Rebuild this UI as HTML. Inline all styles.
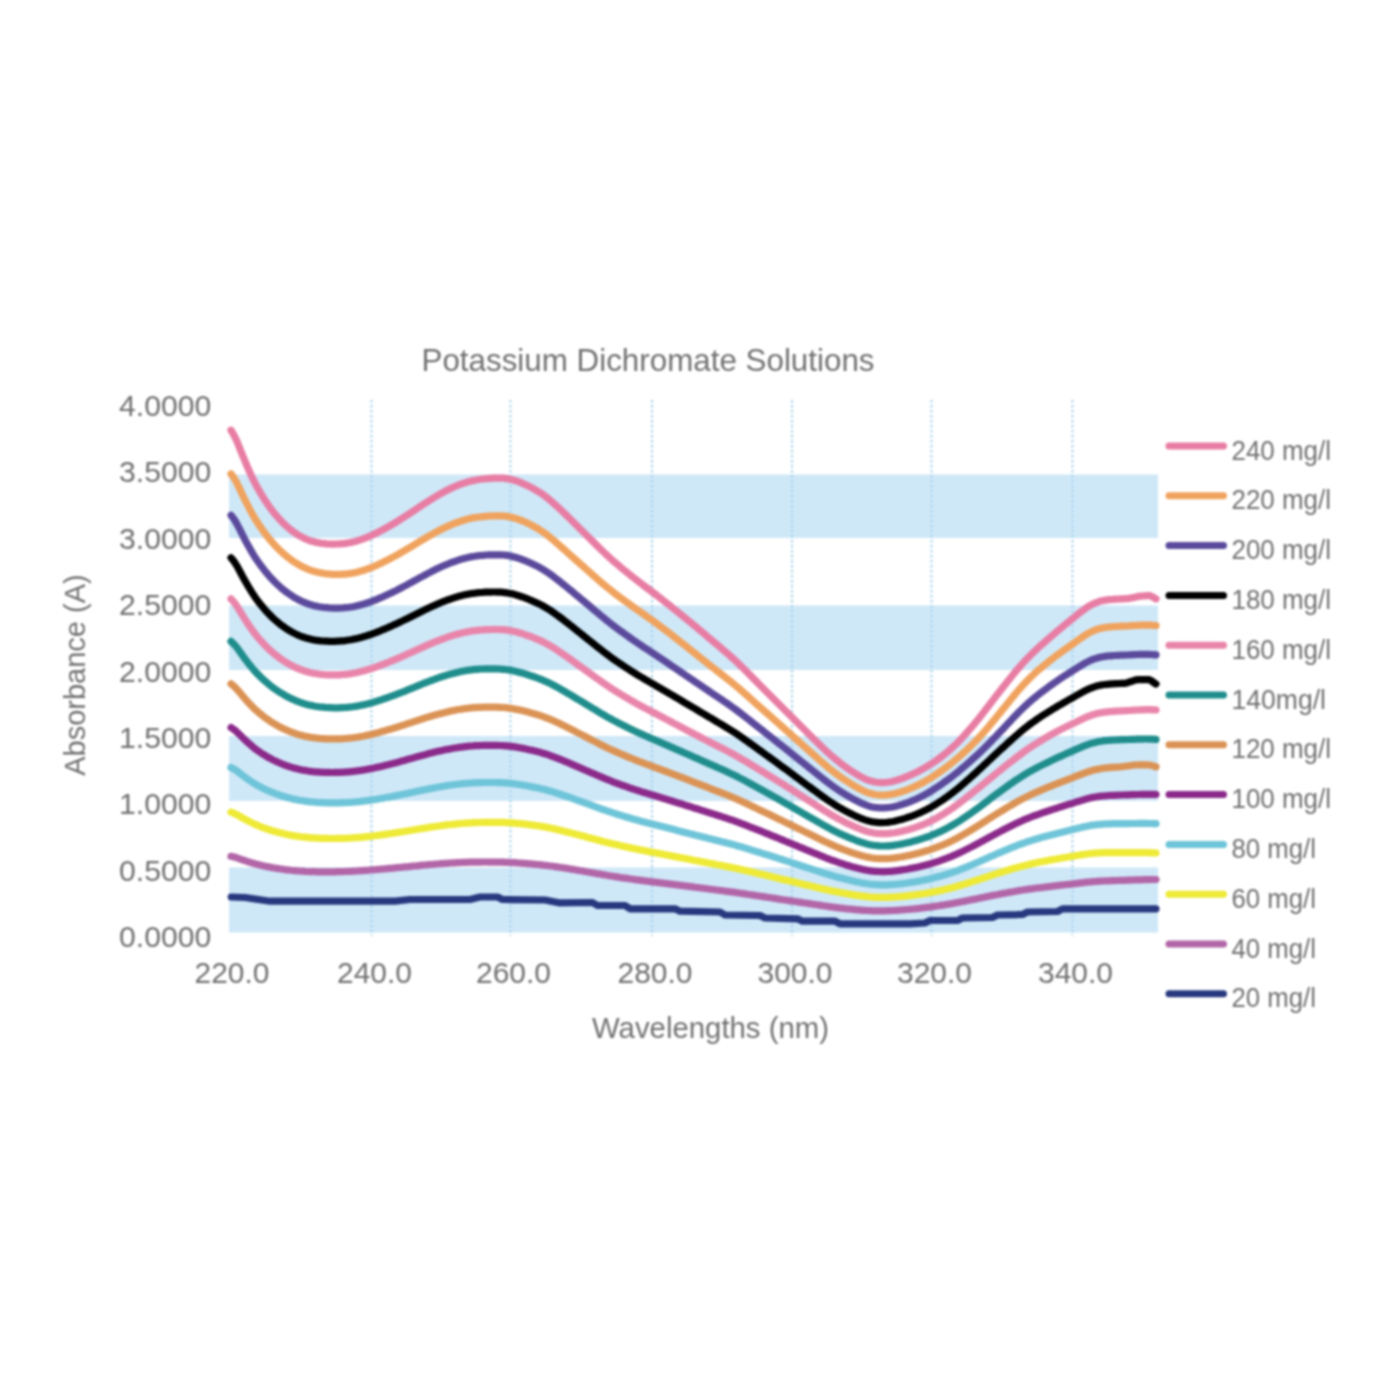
<!DOCTYPE html>
<html lang="en"><head><meta charset="utf-8"><title>Potassium Dichromate Solutions</title>
<style>html,body{margin:0;padding:0;background:#fff}body{width:1400px;height:1400px;overflow:hidden}svg{display:block}#chart{filter:blur(1px)}</style>
</head><body>
<div id="chart">
<svg width="1400" height="1400" viewBox="0 0 1400 1400">
<rect width="1400" height="1400" fill="#fff"/>
<rect x="229" y="474.5" width="929" height="63.5" fill="#CFE8F8"/>
<rect x="229" y="605.5" width="929" height="64.5" fill="#CFE8F8"/>
<rect x="229" y="736" width="929" height="65" fill="#CFE8F8"/>
<rect x="229" y="867.5" width="929" height="65" fill="#CFE8F8"/>
<line x1="371.5" y1="400" x2="371.5" y2="936" stroke="#A6D1EB" stroke-width="2" stroke-dasharray="2.5 2.5"/>
<line x1="510.5" y1="400" x2="510.5" y2="936" stroke="#A6D1EB" stroke-width="2" stroke-dasharray="2.5 2.5"/>
<line x1="652" y1="400" x2="652" y2="936" stroke="#A6D1EB" stroke-width="2" stroke-dasharray="2.5 2.5"/>
<line x1="792" y1="400" x2="792" y2="936" stroke="#A6D1EB" stroke-width="2" stroke-dasharray="2.5 2.5"/>
<line x1="931.5" y1="400" x2="931.5" y2="936" stroke="#A6D1EB" stroke-width="2" stroke-dasharray="2.5 2.5"/>
<line x1="1072.5" y1="400" x2="1072.5" y2="936" stroke="#A6D1EB" stroke-width="2" stroke-dasharray="2.5 2.5"/>
<g fill="none" stroke-width="7.2" stroke-linecap="round" stroke-linejoin="round">
<path d="M231.2 897.0 L245.0 897.5 L270.0 901.2 L395.0 901.2 L410.0 899.5 L470.0 899.5 L480.0 897.0 L497.5 897.0 L502.5 899.5 L545.0 900.0 L558.8 902.8 L592.5 902.5 L597.5 905.5 L625.0 905.5 L630.0 908.8 L675.0 908.8 L680.0 911.2 L720.0 912.0 L725.0 915.0 L760.0 915.5 L765.0 918.0 L797.5 918.8 L802.5 921.2 L835.0 921.2 L840.0 923.8 L910.0 923.8 L925.0 923.0 L930.0 920.5 L957.5 920.5 L962.5 918.0 L992.5 917.5 L997.5 915.0 L1022.5 914.5 L1027.5 912.0 L1057.5 911.5 L1062.5 908.8 L1156.0 908.8" stroke="#28387F"/>
<path d="M231 856.3 L233 856.7 L235 857.2 L237 857.9 L239 858.6 L241 859.3 L243 860.0 L245 860.7 L247 861.4 L249 862.0 L251 862.6 L253 863.2 L255 863.8 L257 864.3 L259 864.8 L261 865.3 L263 865.8 L265 866.2 L267 866.6 L269 867.0 L271 867.4 L273 867.8 L275 868.1 L277 868.4 L279 868.7 L281 869.0 L283 869.3 L285 869.6 L287 869.8 L289 870.0 L291 870.3 L293 870.5 L295 870.6 L297 870.8 L299 871.0 L301 871.1 L303 871.2 L305 871.4 L307 871.5 L309 871.6 L311 871.6 L313 871.7 L315 871.7 L317 871.8 L319 871.8 L321 871.8 L323 871.8 L325 871.9 L327 871.8 L329 871.8 L331 871.8 L333 871.8 L335 871.8 L337 871.7 L339 871.7 L341 871.6 L343 871.6 L345 871.5 L347 871.4 L349 871.4 L351 871.3 L353 871.2 L355 871.1 L357 871.0 L359 870.8 L361 870.7 L363 870.6 L365 870.4 L367 870.3 L369 870.2 L371 870.0 L373 869.8 L375 869.7 L377 869.5 L379 869.3 L381 869.2 L383 869.0 L385 868.8 L387 868.6 L389 868.4 L391 868.3 L393 868.1 L395 867.9 L397 867.7 L399 867.5 L401 867.3 L403 867.1 L405 866.9 L407 866.8 L409 866.6 L411 866.4 L413 866.2 L415 866.0 L417 865.8 L419 865.6 L421 865.4 L423 865.2 L425 865.0 L427 864.9 L429 864.7 L431 864.5 L433 864.3 L435 864.2 L437 864.0 L439 863.9 L441 863.7 L443 863.6 L445 863.4 L447 863.3 L449 863.1 L451 863.0 L453 862.9 L455 862.8 L457 862.7 L459 862.6 L461 862.5 L463 862.4 L465 862.4 L467 862.3 L469 862.2 L471 862.2 L473 862.1 L475 862.1 L477 862.1 L479 862.1 L481 862.1 L483 862.0 L485 862.0 L487 862.0 L489 862.1 L491 862.1 L493 862.1 L495 862.1 L497 862.1 L499 862.1 L501 862.2 L503 862.2 L505 862.3 L507 862.3 L509 862.4 L511 862.5 L513 862.6 L515 862.7 L517 862.9 L519 863.0 L521 863.1 L523 863.3 L525 863.4 L527 863.6 L529 863.8 L531 863.9 L533 864.1 L535 864.3 L537 864.5 L539 864.6 L541 864.8 L543 865.1 L545 865.3 L547 865.5 L549 865.8 L551 866.0 L553 866.3 L555 866.6 L557 866.9 L559 867.2 L561 867.5 L563 867.8 L565 868.1 L567 868.4 L569 868.8 L571 869.1 L573 869.4 L575 869.8 L577 870.1 L579 870.5 L581 870.8 L583 871.1 L585 871.5 L587 871.8 L589 872.2 L591 872.5 L593 872.9 L595 873.2 L597 873.6 L599 873.9 L601 874.3 L603 874.6 L605 875.0 L607 875.3 L609 875.7 L611 876.0 L613 876.3 L615 876.6 L617 876.9 L619 877.2 L621 877.6 L623 877.9 L625 878.1 L627 878.4 L629 878.7 L631 879.0 L633 879.3 L635 879.6 L637 879.8 L639 880.1 L641 880.4 L643 880.6 L645 880.9 L647 881.1 L649 881.4 L651 881.6 L653 881.9 L655 882.1 L657 882.4 L659 882.6 L661 882.9 L663 883.1 L665 883.4 L667 883.6 L669 883.9 L671 884.2 L673 884.4 L675 884.7 L677 884.9 L679 885.2 L681 885.4 L683 885.7 L685 885.9 L687 886.2 L689 886.4 L691 886.7 L693 886.9 L695 887.2 L697 887.5 L699 887.7 L701 888.0 L703 888.2 L705 888.5 L707 888.7 L709 889.0 L711 889.3 L713 889.5 L715 889.8 L717 890.0 L719 890.3 L721 890.5 L723 890.8 L725 891.1 L727 891.3 L729 891.6 L731 891.8 L733 892.1 L735 892.4 L737 892.7 L739 893.0 L741 893.3 L743 893.6 L745 893.9 L747 894.2 L749 894.5 L751 894.8 L753 895.1 L755 895.4 L757 895.7 L759 896.0 L761 896.3 L763 896.6 L765 896.9 L767 897.2 L769 897.5 L771 897.8 L773 898.1 L775 898.4 L777 898.7 L779 899.1 L781 899.4 L783 899.7 L785 900.0 L787 900.3 L789 900.6 L791 900.9 L793 901.2 L795 901.5 L797 901.8 L799 902.1 L801 902.4 L803 902.7 L805 903.0 L807 903.3 L809 903.6 L811 903.9 L813 904.2 L815 904.5 L817 904.8 L819 905.1 L821 905.4 L823 905.7 L825 906.0 L827 906.3 L829 906.6 L831 906.9 L833 907.1 L835 907.4 L837 907.6 L839 907.9 L841 908.1 L843 908.3 L845 908.6 L847 908.8 L849 909.0 L851 909.2 L853 909.4 L855 909.6 L857 909.8 L859 909.9 L861 910.1 L863 910.3 L865 910.4 L867 910.5 L869 910.6 L871 910.7 L873 910.8 L875 910.8 L877 910.8 L879 910.9 L881 910.8 L883 910.8 L885 910.8 L887 910.7 L889 910.7 L891 910.6 L893 910.5 L895 910.4 L897 910.3 L899 910.1 L901 910.0 L903 909.8 L905 909.7 L907 909.5 L909 909.3 L911 909.2 L913 909.0 L915 908.8 L917 908.6 L919 908.4 L921 908.1 L923 907.9 L925 907.7 L927 907.4 L929 907.2 L931 906.9 L933 906.6 L935 906.3 L937 906.0 L939 905.7 L941 905.4 L943 905.1 L945 904.8 L947 904.4 L949 904.1 L951 903.7 L953 903.4 L955 903.0 L957 902.6 L959 902.2 L961 901.9 L963 901.5 L965 901.1 L967 900.7 L969 900.3 L971 899.9 L973 899.5 L975 899.1 L977 898.7 L979 898.3 L981 897.9 L983 897.5 L985 897.1 L987 896.6 L989 896.2 L991 895.8 L993 895.4 L995 895.0 L997 894.7 L999 894.3 L1001 893.9 L1003 893.5 L1005 893.1 L1007 892.8 L1009 892.4 L1011 892.0 L1013 891.7 L1015 891.3 L1017 891.0 L1019 890.6 L1021 890.3 L1023 890.0 L1025 889.7 L1027 889.4 L1029 889.1 L1031 888.8 L1033 888.6 L1035 888.3 L1037 888.0 L1039 887.8 L1041 887.6 L1043 887.3 L1045 887.1 L1047 886.8 L1049 886.6 L1051 886.4 L1053 886.1 L1055 885.9 L1057 885.7 L1059 885.4 L1061 885.2 L1063 885.0 L1065 884.7 L1067 884.5 L1069 884.3 L1071 884.1 L1073 883.8 L1075 883.6 L1077 883.4 L1079 883.1 L1081 882.9 L1083 882.7 L1085 882.4 L1087 882.2 L1089 882.0 L1091 881.8 L1093 881.6 L1095 881.5 L1097 881.3 L1099 881.2 L1101 881.1 L1103 881.0 L1105 880.9 L1107 880.8 L1109 880.8 L1111 880.7 L1113 880.6 L1115 880.6 L1117 880.5 L1119 880.4 L1121 880.4 L1123 880.3 L1125 880.3 L1127 880.2 L1129 880.1 L1131 880.1 L1133 880.0 L1135 879.9 L1137 879.9 L1139 879.8 L1141 879.8 L1143 879.7 L1145 879.7 L1147 879.6 L1149 879.6 L1151 879.5 L1153 879.5 L1155 879.5 L1156 879.5" stroke="#B266A8"/>
<path d="M231 812.1 L233 812.8 L235 813.7 L237 814.7 L239 815.8 L241 817.0 L243 818.1 L245 819.3 L247 820.3 L249 821.4 L251 822.4 L253 823.4 L255 824.4 L257 825.2 L259 826.0 L261 826.8 L263 827.6 L265 828.3 L267 829.0 L269 829.7 L271 830.3 L273 831.0 L275 831.5 L277 832.1 L279 832.6 L281 833.1 L283 833.6 L285 834.0 L287 834.5 L289 834.9 L291 835.2 L293 835.6 L295 835.9 L297 836.2 L299 836.5 L301 836.8 L303 837.0 L305 837.2 L307 837.4 L309 837.6 L311 837.8 L313 837.9 L315 838.0 L317 838.1 L319 838.2 L321 838.3 L323 838.4 L325 838.4 L327 838.4 L329 838.5 L331 838.5 L333 838.5 L335 838.5 L337 838.4 L339 838.4 L341 838.4 L343 838.3 L345 838.3 L347 838.2 L349 838.1 L351 838.0 L353 837.9 L355 837.7 L357 837.6 L359 837.4 L361 837.3 L363 837.1 L365 836.9 L367 836.7 L369 836.5 L371 836.2 L373 836.0 L375 835.7 L377 835.5 L379 835.2 L381 834.9 L383 834.7 L385 834.4 L387 834.1 L389 833.8 L391 833.5 L393 833.2 L395 832.9 L397 832.6 L399 832.3 L401 832.0 L403 831.7 L405 831.3 L407 831.0 L409 830.7 L411 830.3 L413 830.0 L415 829.7 L417 829.3 L419 829.0 L421 828.7 L423 828.4 L425 828.1 L427 827.7 L429 827.4 L431 827.1 L433 826.8 L435 826.5 L437 826.2 L439 826.0 L441 825.7 L443 825.4 L445 825.2 L447 824.9 L449 824.7 L451 824.5 L453 824.3 L455 824.1 L457 823.9 L459 823.7 L461 823.5 L463 823.4 L465 823.2 L467 823.1 L469 823.0 L471 822.8 L473 822.7 L475 822.7 L477 822.6 L479 822.5 L481 822.5 L483 822.4 L485 822.4 L487 822.4 L489 822.3 L491 822.3 L493 822.3 L495 822.3 L497 822.3 L499 822.3 L501 822.4 L503 822.4 L505 822.5 L507 822.6 L509 822.7 L511 822.8 L513 822.9 L515 823.1 L517 823.3 L519 823.5 L521 823.7 L523 823.9 L525 824.1 L527 824.4 L529 824.6 L531 824.9 L533 825.1 L535 825.4 L537 825.7 L539 826.0 L541 826.3 L543 826.6 L545 827.0 L547 827.4 L549 827.8 L551 828.2 L553 828.6 L555 829.1 L557 829.5 L559 830.0 L561 830.5 L563 831.0 L565 831.5 L567 832.0 L569 832.5 L571 833.0 L573 833.5 L575 834.0 L577 834.5 L579 835.1 L581 835.6 L583 836.1 L585 836.6 L587 837.2 L589 837.7 L591 838.2 L593 838.7 L595 839.3 L597 839.8 L599 840.3 L601 840.9 L603 841.4 L605 841.9 L607 842.4 L609 842.9 L611 843.4 L613 843.9 L615 844.3 L617 844.8 L619 845.3 L621 845.7 L623 846.2 L625 846.6 L627 847.1 L629 847.5 L631 847.9 L633 848.4 L635 848.8 L637 849.2 L639 849.6 L641 850.0 L643 850.4 L645 850.8 L647 851.2 L649 851.6 L651 852.0 L653 852.3 L655 852.7 L657 853.1 L659 853.5 L661 853.9 L663 854.3 L665 854.7 L667 855.0 L669 855.4 L671 855.8 L673 856.2 L675 856.6 L677 857.0 L679 857.4 L681 857.8 L683 858.1 L685 858.5 L687 858.9 L689 859.3 L691 859.7 L693 860.1 L695 860.5 L697 860.8 L699 861.2 L701 861.6 L703 862.0 L705 862.4 L707 862.8 L709 863.1 L711 863.5 L713 863.9 L715 864.3 L717 864.7 L719 865.0 L721 865.4 L723 865.8 L725 866.2 L727 866.6 L729 867.0 L731 867.4 L733 867.8 L735 868.2 L737 868.6 L739 869.1 L741 869.5 L743 869.9 L745 870.4 L747 870.9 L749 871.3 L751 871.8 L753 872.3 L755 872.7 L757 873.2 L759 873.7 L761 874.1 L763 874.6 L765 875.1 L767 875.6 L769 876.0 L771 876.5 L773 877.0 L775 877.5 L777 877.9 L779 878.4 L781 878.9 L783 879.4 L785 879.9 L787 880.3 L789 880.8 L791 881.3 L793 881.8 L795 882.3 L797 882.7 L799 883.2 L801 883.7 L803 884.2 L805 884.7 L807 885.1 L809 885.6 L811 886.1 L813 886.6 L815 887.0 L817 887.5 L819 888.0 L821 888.4 L823 888.9 L825 889.4 L827 889.8 L829 890.2 L831 890.7 L833 891.1 L835 891.5 L837 891.9 L839 892.3 L841 892.7 L843 893.0 L845 893.4 L847 893.7 L849 894.1 L851 894.4 L853 894.7 L855 895.1 L857 895.4 L859 895.7 L861 895.9 L863 896.2 L865 896.4 L867 896.7 L869 896.9 L871 897.0 L873 897.2 L875 897.3 L877 897.3 L879 897.4 L881 897.4 L883 897.4 L885 897.4 L887 897.4 L889 897.3 L891 897.2 L893 897.1 L895 897.0 L897 896.8 L899 896.7 L901 896.5 L903 896.3 L905 896.1 L907 895.9 L909 895.7 L911 895.4 L913 895.2 L915 894.9 L917 894.7 L919 894.4 L921 894.1 L923 893.8 L925 893.5 L927 893.1 L929 892.8 L931 892.4 L933 892.0 L935 891.6 L937 891.2 L939 890.8 L941 890.4 L943 889.9 L945 889.4 L947 889.0 L949 888.5 L951 888.0 L953 887.4 L955 886.9 L957 886.3 L959 885.8 L961 885.2 L963 884.6 L965 884.0 L967 883.3 L969 882.7 L971 882.1 L973 881.4 L975 880.8 L977 880.2 L979 879.5 L981 878.9 L983 878.2 L985 877.5 L987 876.9 L989 876.2 L991 875.5 L993 874.9 L995 874.2 L997 873.6 L999 872.9 L1001 872.3 L1003 871.7 L1005 871.1 L1007 870.5 L1009 869.8 L1011 869.2 L1013 868.6 L1015 868.1 L1017 867.5 L1019 866.9 L1021 866.4 L1023 865.9 L1025 865.4 L1027 864.9 L1029 864.4 L1031 863.9 L1033 863.5 L1035 863.1 L1037 862.6 L1039 862.2 L1041 861.8 L1043 861.5 L1045 861.1 L1047 860.7 L1049 860.3 L1051 859.9 L1053 859.6 L1055 859.2 L1057 858.9 L1059 858.5 L1061 858.2 L1063 857.8 L1065 857.5 L1067 857.2 L1069 856.8 L1071 856.5 L1073 856.2 L1075 855.8 L1077 855.5 L1079 855.2 L1081 854.9 L1083 854.6 L1085 854.3 L1087 854.0 L1089 853.7 L1091 853.5 L1093 853.3 L1095 853.1 L1097 853.0 L1099 852.9 L1101 852.8 L1103 852.7 L1105 852.6 L1107 852.6 L1109 852.6 L1111 852.6 L1113 852.6 L1115 852.6 L1117 852.6 L1119 852.6 L1121 852.6 L1123 852.6 L1125 852.6 L1127 852.6 L1129 852.6 L1131 852.6 L1133 852.6 L1135 852.6 L1137 852.6 L1139 852.6 L1141 852.6 L1143 852.6 L1145 852.7 L1147 852.7 L1149 852.7 L1151 852.8 L1153 852.8 L1155 852.9 L1156 853.0" stroke="#EEEA35"/>
<path d="M231 767.6 L233 768.5 L235 769.7 L237 771.0 L239 772.5 L241 774.1 L243 775.6 L245 777.1 L247 778.6 L249 780.0 L251 781.4 L253 782.7 L255 783.9 L257 785.1 L259 786.2 L261 787.2 L263 788.3 L265 789.2 L267 790.2 L269 791.1 L271 791.9 L273 792.7 L275 793.5 L277 794.3 L279 794.9 L281 795.6 L283 796.2 L285 796.8 L287 797.4 L289 797.9 L291 798.5 L293 798.9 L295 799.4 L297 799.8 L299 800.2 L301 800.5 L303 800.8 L305 801.1 L307 801.4 L309 801.7 L311 801.9 L313 802.0 L315 802.2 L317 802.4 L319 802.5 L321 802.6 L323 802.6 L325 802.7 L327 802.8 L329 802.8 L331 802.8 L333 802.8 L335 802.8 L337 802.8 L339 802.8 L341 802.7 L343 802.7 L345 802.6 L347 802.5 L349 802.4 L351 802.3 L353 802.1 L355 802.0 L357 801.8 L359 801.6 L361 801.4 L363 801.1 L365 800.9 L367 800.6 L369 800.4 L371 800.1 L373 799.8 L375 799.5 L377 799.2 L379 798.8 L381 798.5 L383 798.1 L385 797.8 L387 797.4 L389 797.1 L391 796.7 L393 796.3 L395 795.9 L397 795.5 L399 795.1 L401 794.7 L403 794.3 L405 793.9 L407 793.5 L409 793.0 L411 792.6 L413 792.2 L415 791.8 L417 791.3 L419 790.9 L421 790.5 L423 790.1 L425 789.7 L427 789.3 L429 788.9 L431 788.5 L433 788.1 L435 787.7 L437 787.3 L439 787.0 L441 786.6 L443 786.3 L445 785.9 L447 785.6 L449 785.3 L451 785.0 L453 784.8 L455 784.5 L457 784.3 L459 784.0 L461 783.8 L463 783.6 L465 783.4 L467 783.3 L469 783.1 L471 783.0 L473 782.9 L475 782.8 L477 782.7 L479 782.6 L481 782.6 L483 782.5 L485 782.5 L487 782.5 L489 782.5 L491 782.5 L493 782.5 L495 782.5 L497 782.6 L499 782.6 L501 782.7 L503 782.8 L505 782.9 L507 783.1 L509 783.2 L511 783.4 L513 783.7 L515 783.9 L517 784.2 L519 784.5 L521 784.8 L523 785.1 L525 785.5 L527 785.8 L529 786.2 L531 786.6 L533 787.0 L535 787.4 L537 787.8 L539 788.2 L541 788.7 L543 789.1 L545 789.6 L547 790.2 L549 790.7 L551 791.3 L553 791.9 L555 792.5 L557 793.2 L559 793.8 L561 794.5 L563 795.2 L565 795.8 L567 796.5 L569 797.2 L571 797.9 L573 798.7 L575 799.4 L577 800.1 L579 800.8 L581 801.5 L583 802.2 L585 803.0 L587 803.7 L589 804.4 L591 805.1 L593 805.9 L595 806.6 L597 807.3 L599 808.0 L601 808.8 L603 809.5 L605 810.2 L607 810.9 L609 811.5 L611 812.2 L613 812.9 L615 813.5 L617 814.2 L619 814.8 L621 815.4 L623 816.0 L625 816.6 L627 817.2 L629 817.8 L631 818.4 L633 819.0 L635 819.5 L637 820.1 L639 820.6 L641 821.2 L643 821.7 L645 822.2 L647 822.7 L649 823.2 L651 823.7 L653 824.2 L655 824.8 L657 825.3 L659 825.8 L661 826.3 L663 826.8 L665 827.3 L667 827.8 L669 828.3 L671 828.8 L673 829.3 L675 829.8 L677 830.4 L679 830.9 L681 831.4 L683 831.9 L685 832.4 L687 832.9 L689 833.4 L691 833.9 L693 834.4 L695 834.9 L697 835.4 L699 835.9 L701 836.4 L703 836.9 L705 837.4 L707 838.0 L709 838.5 L711 839.0 L713 839.5 L715 840.0 L717 840.5 L719 841.0 L721 841.5 L723 842.0 L725 842.5 L727 843.0 L729 843.5 L731 844.0 L733 844.6 L735 845.1 L737 845.7 L739 846.3 L741 846.8 L743 847.4 L745 848.0 L747 848.6 L749 849.2 L751 849.9 L753 850.5 L755 851.1 L757 851.7 L759 852.3 L761 852.9 L763 853.6 L765 854.2 L767 854.8 L769 855.4 L771 856.0 L773 856.7 L775 857.3 L777 857.9 L779 858.6 L781 859.2 L783 859.8 L785 860.5 L787 861.1 L789 861.8 L791 862.4 L793 863.1 L795 863.7 L797 864.4 L799 865.0 L801 865.7 L803 866.3 L805 867.0 L807 867.6 L809 868.3 L811 868.9 L813 869.6 L815 870.2 L817 870.9 L819 871.5 L821 872.2 L823 872.8 L825 873.5 L827 874.1 L829 874.7 L831 875.3 L833 875.9 L835 876.5 L837 877.0 L839 877.6 L841 878.1 L843 878.6 L845 879.1 L847 879.6 L849 880.1 L851 880.6 L853 881.0 L855 881.5 L857 881.9 L859 882.3 L861 882.7 L863 883.1 L865 883.4 L867 883.8 L869 884.0 L871 884.3 L873 884.5 L875 884.6 L877 884.7 L879 884.8 L881 884.9 L883 884.9 L885 884.9 L887 884.8 L889 884.7 L891 884.6 L893 884.5 L895 884.4 L897 884.2 L899 884.0 L901 883.8 L903 883.5 L905 883.3 L907 883.0 L909 882.7 L911 882.4 L913 882.1 L915 881.8 L917 881.4 L919 881.1 L921 880.7 L923 880.3 L925 879.9 L927 879.5 L929 879.1 L931 878.6 L933 878.1 L935 877.6 L937 877.1 L939 876.5 L941 876.0 L943 875.4 L945 874.8 L947 874.2 L949 873.5 L951 872.9 L953 872.2 L955 871.5 L957 870.8 L959 870.0 L961 869.2 L963 868.5 L965 867.6 L967 866.8 L969 866.0 L971 865.2 L973 864.3 L975 863.5 L977 862.6 L979 861.8 L981 860.9 L983 860.0 L985 859.1 L987 858.2 L989 857.3 L991 856.4 L993 855.6 L995 854.7 L997 853.8 L999 852.9 L1001 852.1 L1003 851.2 L1005 850.4 L1007 849.6 L1009 848.7 L1011 847.9 L1013 847.1 L1015 846.3 L1017 845.5 L1019 844.7 L1021 844.0 L1023 843.3 L1025 842.6 L1027 841.9 L1029 841.2 L1031 840.6 L1033 840.0 L1035 839.4 L1037 838.8 L1039 838.2 L1041 837.6 L1043 837.1 L1045 836.6 L1047 836.0 L1049 835.5 L1051 834.9 L1053 834.4 L1055 833.9 L1057 833.4 L1059 832.9 L1061 832.4 L1063 831.9 L1065 831.4 L1067 830.9 L1069 830.4 L1071 829.9 L1073 829.4 L1075 829.0 L1077 828.5 L1079 828.0 L1081 827.5 L1083 827.0 L1085 826.6 L1087 826.2 L1089 825.8 L1091 825.4 L1093 825.1 L1095 824.9 L1097 824.6 L1099 824.4 L1101 824.3 L1103 824.1 L1105 824.0 L1107 823.9 L1109 823.8 L1111 823.8 L1113 823.7 L1115 823.7 L1117 823.7 L1119 823.7 L1121 823.6 L1123 823.6 L1125 823.6 L1127 823.6 L1129 823.6 L1131 823.5 L1133 823.5 L1135 823.5 L1137 823.5 L1139 823.4 L1141 823.4 L1143 823.4 L1145 823.4 L1147 823.4 L1149 823.5 L1151 823.5 L1153 823.6 L1155 823.7 L1156 823.7" stroke="#6EC4D8"/>
<path d="M231 727.6 L233 728.9 L235 730.3 L237 732.1 L239 734.0 L241 736.0 L243 738.0 L245 739.9 L247 741.8 L249 743.6 L251 745.3 L253 747.0 L255 748.7 L257 750.1 L259 751.5 L261 752.9 L263 754.2 L265 755.4 L267 756.6 L269 757.8 L271 758.8 L273 759.9 L275 760.9 L277 761.8 L279 762.7 L281 763.5 L283 764.3 L285 765.1 L287 765.8 L289 766.5 L291 767.1 L293 767.7 L295 768.2 L297 768.8 L299 769.2 L301 769.7 L303 770.1 L305 770.4 L307 770.8 L309 771.1 L311 771.3 L313 771.6 L315 771.8 L317 771.9 L319 772.1 L321 772.2 L323 772.3 L325 772.4 L327 772.4 L329 772.4 L331 772.5 L333 772.5 L335 772.4 L337 772.4 L339 772.3 L341 772.3 L343 772.2 L345 772.1 L347 771.9 L349 771.8 L351 771.6 L353 771.4 L355 771.2 L357 770.9 L359 770.7 L361 770.4 L363 770.1 L365 769.7 L367 769.4 L369 769.0 L371 768.6 L373 768.2 L375 767.8 L377 767.3 L379 766.9 L381 766.4 L383 765.9 L385 765.4 L387 765.0 L389 764.5 L391 764.0 L393 763.4 L395 762.9 L397 762.4 L399 761.9 L401 761.3 L403 760.8 L405 760.2 L407 759.6 L409 759.1 L411 758.5 L413 758.0 L415 757.4 L417 756.8 L419 756.3 L421 755.7 L423 755.2 L425 754.7 L427 754.1 L429 753.6 L431 753.1 L433 752.6 L435 752.1 L437 751.6 L439 751.1 L441 750.7 L443 750.3 L445 749.8 L447 749.4 L449 749.1 L451 748.7 L453 748.3 L455 748.0 L457 747.7 L459 747.4 L461 747.1 L463 746.9 L465 746.6 L467 746.4 L469 746.2 L471 746.0 L473 745.9 L475 745.7 L477 745.6 L479 745.6 L481 745.5 L483 745.4 L485 745.4 L487 745.4 L489 745.4 L491 745.4 L493 745.4 L495 745.4 L497 745.4 L499 745.5 L501 745.5 L503 745.6 L505 745.8 L507 745.9 L509 746.1 L511 746.4 L513 746.6 L515 746.9 L517 747.3 L519 747.6 L521 748.0 L523 748.4 L525 748.8 L527 749.2 L529 749.7 L531 750.1 L533 750.6 L535 751.1 L537 751.6 L539 752.1 L541 752.6 L543 753.2 L545 753.8 L547 754.4 L549 755.1 L551 755.8 L553 756.6 L555 757.3 L557 758.1 L559 758.9 L561 759.7 L563 760.5 L565 761.4 L567 762.2 L569 763.0 L571 763.9 L573 764.8 L575 765.6 L577 766.5 L579 767.4 L581 768.2 L583 769.1 L585 770.0 L587 770.8 L589 771.7 L591 772.6 L593 773.4 L595 774.3 L597 775.2 L599 776.0 L601 776.9 L603 777.7 L605 778.6 L607 779.4 L609 780.2 L611 781.0 L613 781.8 L615 782.6 L617 783.3 L619 784.0 L621 784.8 L623 785.5 L625 786.2 L627 786.9 L629 787.6 L631 788.3 L633 789.0 L635 789.6 L637 790.3 L639 790.9 L641 791.6 L643 792.2 L645 792.8 L647 793.4 L649 794.0 L651 794.6 L653 795.2 L655 795.8 L657 796.4 L659 797.0 L661 797.6 L663 798.3 L665 798.9 L667 799.5 L669 800.1 L671 800.7 L673 801.3 L675 802.0 L677 802.6 L679 803.2 L681 803.8 L683 804.4 L685 805.1 L687 805.7 L689 806.3 L691 806.9 L693 807.6 L695 808.2 L697 808.8 L699 809.4 L701 810.1 L703 810.7 L705 811.4 L707 812.0 L709 812.6 L711 813.3 L713 813.9 L715 814.5 L717 815.2 L719 815.8 L721 816.4 L723 817.1 L725 817.7 L727 818.4 L729 819.1 L731 819.7 L733 820.4 L735 821.1 L737 821.9 L739 822.6 L741 823.4 L743 824.1 L745 824.9 L747 825.7 L749 826.5 L751 827.3 L753 828.0 L755 828.8 L757 829.6 L759 830.4 L761 831.2 L763 832.0 L765 832.8 L767 833.6 L769 834.4 L771 835.3 L773 836.1 L775 836.9 L777 837.7 L779 838.5 L781 839.3 L783 840.1 L785 841.0 L787 841.8 L789 842.6 L791 843.4 L793 844.3 L795 845.1 L797 845.9 L799 846.8 L801 847.6 L803 848.4 L805 849.3 L807 850.1 L809 850.9 L811 851.7 L813 852.6 L815 853.4 L817 854.2 L819 855.0 L821 855.9 L823 856.7 L825 857.5 L827 858.3 L829 859.0 L831 859.8 L833 860.5 L835 861.2 L837 861.9 L839 862.6 L841 863.3 L843 863.9 L845 864.6 L847 865.2 L849 865.8 L851 866.4 L853 866.9 L855 867.5 L857 868.0 L859 868.5 L861 869.0 L863 869.5 L865 869.9 L867 870.3 L869 870.6 L871 870.9 L873 871.1 L875 871.3 L877 871.4 L879 871.5 L881 871.6 L883 871.6 L885 871.6 L887 871.5 L889 871.4 L891 871.3 L893 871.1 L895 870.9 L897 870.7 L899 870.4 L901 870.1 L903 869.8 L905 869.5 L907 869.2 L909 868.8 L911 868.4 L913 868.0 L915 867.6 L917 867.2 L919 866.7 L921 866.3 L923 865.8 L925 865.3 L927 864.8 L929 864.2 L931 863.6 L933 863.0 L935 862.4 L937 861.8 L939 861.1 L941 860.4 L943 859.7 L945 858.9 L947 858.2 L949 857.4 L951 856.6 L953 855.7 L955 854.9 L957 854.0 L959 853.0 L961 852.1 L963 851.1 L965 850.1 L967 849.1 L969 848.1 L971 847.1 L973 846.1 L975 845.0 L977 844.0 L979 842.9 L981 841.8 L983 840.8 L985 839.7 L987 838.6 L989 837.5 L991 836.4 L993 835.3 L995 834.2 L997 833.2 L999 832.1 L1001 831.1 L1003 830.0 L1005 829.0 L1007 828.0 L1009 827.0 L1011 826.0 L1013 825.0 L1015 824.0 L1017 823.0 L1019 822.1 L1021 821.2 L1023 820.3 L1025 819.4 L1027 818.6 L1029 817.8 L1031 817.0 L1033 816.2 L1035 815.5 L1037 814.8 L1039 814.1 L1041 813.4 L1043 812.7 L1045 812.0 L1047 811.3 L1049 810.7 L1051 810.0 L1053 809.4 L1055 808.7 L1057 808.1 L1059 807.4 L1061 806.8 L1063 806.2 L1065 805.5 L1067 804.9 L1069 804.3 L1071 803.7 L1073 803.1 L1075 802.4 L1077 801.8 L1079 801.2 L1081 800.6 L1083 800.0 L1085 799.4 L1087 798.8 L1089 798.3 L1091 797.8 L1093 797.4 L1095 797.0 L1097 796.7 L1099 796.4 L1101 796.2 L1103 796.0 L1105 795.8 L1107 795.7 L1109 795.5 L1111 795.4 L1113 795.3 L1115 795.3 L1117 795.2 L1119 795.1 L1121 795.0 L1123 795.0 L1125 794.9 L1127 794.9 L1129 794.8 L1131 794.7 L1133 794.6 L1135 794.6 L1137 794.5 L1139 794.5 L1141 794.4 L1143 794.4 L1145 794.3 L1147 794.3 L1149 794.3 L1151 794.3 L1153 794.4 L1155 794.4 L1156 794.5" stroke="#8B2A8A"/>
<path d="M231 683.9 L233 685.4 L235 687.2 L237 689.3 L239 691.6 L241 694.0 L243 696.4 L245 698.8 L247 701.0 L249 703.2 L251 705.3 L253 707.4 L255 709.3 L257 711.1 L259 712.8 L261 714.4 L263 716.0 L265 717.6 L267 719.0 L269 720.4 L271 721.8 L273 723.0 L275 724.2 L277 725.4 L279 726.5 L281 727.5 L283 728.5 L285 729.4 L287 730.3 L289 731.2 L291 732.0 L293 732.7 L295 733.4 L297 734.1 L299 734.7 L301 735.2 L303 735.7 L305 736.2 L307 736.6 L309 737.0 L311 737.4 L313 737.7 L315 737.9 L317 738.2 L319 738.4 L321 738.5 L323 738.6 L325 738.8 L327 738.8 L329 738.9 L331 738.9 L333 738.9 L335 738.9 L337 738.9 L339 738.8 L341 738.8 L343 738.7 L345 738.5 L347 738.4 L349 738.2 L351 738.0 L353 737.8 L355 737.5 L357 737.2 L359 736.9 L361 736.5 L363 736.2 L365 735.8 L367 735.3 L369 734.9 L371 734.4 L373 734.0 L375 733.4 L377 732.9 L379 732.4 L381 731.8 L383 731.3 L385 730.7 L387 730.1 L389 729.6 L391 729.0 L393 728.4 L395 727.8 L397 727.1 L399 726.5 L401 725.9 L403 725.2 L405 724.6 L407 723.9 L409 723.2 L411 722.6 L413 721.9 L415 721.3 L417 720.6 L419 720.0 L421 719.3 L423 718.7 L425 718.0 L427 717.4 L429 716.8 L431 716.2 L433 715.6 L435 715.0 L437 714.5 L439 713.9 L441 713.4 L443 712.9 L445 712.4 L447 711.9 L449 711.4 L451 711.0 L453 710.6 L455 710.2 L457 709.8 L459 709.5 L461 709.2 L463 708.9 L465 708.6 L467 708.3 L469 708.1 L471 707.9 L473 707.7 L475 707.6 L477 707.4 L479 707.3 L481 707.3 L483 707.2 L485 707.2 L487 707.1 L489 707.1 L491 707.1 L493 707.1 L495 707.2 L497 707.2 L499 707.3 L501 707.4 L503 707.5 L505 707.6 L507 707.8 L509 708.1 L511 708.4 L513 708.7 L515 709.1 L517 709.5 L519 709.9 L521 710.3 L523 710.8 L525 711.3 L527 711.8 L529 712.3 L531 712.9 L533 713.4 L535 714.0 L537 714.6 L539 715.2 L541 715.9 L543 716.5 L545 717.3 L547 718.0 L549 718.8 L551 719.7 L553 720.5 L555 721.4 L557 722.4 L559 723.3 L561 724.3 L563 725.3 L565 726.2 L567 727.2 L569 728.3 L571 729.3 L573 730.3 L575 731.3 L577 732.4 L579 733.4 L581 734.4 L583 735.4 L585 736.5 L587 737.5 L589 738.5 L591 739.6 L593 740.6 L595 741.6 L597 742.6 L599 743.7 L601 744.7 L603 745.7 L605 746.7 L607 747.7 L609 748.6 L611 749.6 L613 750.5 L615 751.4 L617 752.3 L619 753.2 L621 754.0 L623 754.9 L625 755.7 L627 756.6 L629 757.4 L631 758.2 L633 759.0 L635 759.8 L637 760.6 L639 761.4 L641 762.1 L643 762.9 L645 763.6 L647 764.4 L649 765.1 L651 765.8 L653 766.6 L655 767.3 L657 768.1 L659 768.8 L661 769.5 L663 770.3 L665 771.0 L667 771.8 L669 772.6 L671 773.3 L673 774.1 L675 774.8 L677 775.6 L679 776.4 L681 777.1 L683 777.9 L685 778.7 L687 779.5 L689 780.2 L691 781.0 L693 781.8 L695 782.6 L697 783.3 L699 784.1 L701 784.9 L703 785.7 L705 786.4 L707 787.2 L709 788.0 L711 788.8 L713 789.6 L715 790.3 L717 791.1 L719 791.9 L721 792.7 L723 793.5 L725 794.2 L727 795.0 L729 795.9 L731 796.7 L733 797.5 L735 798.4 L737 799.2 L739 800.1 L741 801.0 L743 802.0 L745 802.9 L747 803.8 L749 804.8 L751 805.7 L753 806.7 L755 807.6 L757 808.6 L759 809.6 L761 810.5 L763 811.5 L765 812.4 L767 813.4 L769 814.3 L771 815.3 L773 816.3 L775 817.2 L777 818.2 L779 819.2 L781 820.1 L783 821.1 L785 822.1 L787 823.1 L789 824.0 L791 825.0 L793 826.0 L795 827.0 L797 828.0 L799 828.9 L801 829.9 L803 830.9 L805 831.9 L807 832.9 L809 833.8 L811 834.8 L813 835.8 L815 836.8 L817 837.8 L819 838.7 L821 839.7 L823 840.7 L825 841.6 L827 842.6 L829 843.5 L831 844.4 L833 845.3 L835 846.2 L837 847.0 L839 847.8 L841 848.6 L843 849.4 L845 850.1 L847 850.9 L849 851.6 L851 852.3 L853 853.0 L855 853.6 L857 854.3 L859 854.9 L861 855.5 L863 856.1 L865 856.6 L867 857.0 L869 857.4 L871 857.8 L873 858.1 L875 858.3 L877 858.5 L879 858.6 L881 858.7 L883 858.7 L885 858.7 L887 858.6 L889 858.5 L891 858.3 L893 858.1 L895 857.9 L897 857.6 L899 857.3 L901 857.0 L903 856.6 L905 856.2 L907 855.8 L909 855.4 L911 855.0 L913 854.5 L915 854.0 L917 853.5 L919 853.0 L921 852.5 L923 851.9 L925 851.3 L927 850.7 L929 850.1 L931 849.4 L933 848.7 L935 848.0 L937 847.2 L939 846.5 L941 845.7 L943 844.8 L945 844.0 L947 843.1 L949 842.2 L951 841.2 L953 840.3 L955 839.2 L957 838.2 L959 837.1 L961 836.0 L963 834.8 L965 833.7 L967 832.5 L969 831.3 L971 830.1 L973 828.9 L975 827.7 L977 826.4 L979 825.2 L981 823.9 L983 822.6 L985 821.4 L987 820.1 L989 818.8 L991 817.5 L993 816.2 L995 815.0 L997 813.7 L999 812.5 L1001 811.3 L1003 810.1 L1005 808.9 L1007 807.7 L1009 806.5 L1011 805.3 L1013 804.1 L1015 803.0 L1017 801.8 L1019 800.7 L1021 799.6 L1023 798.6 L1025 797.6 L1027 796.6 L1029 795.6 L1031 794.6 L1033 793.7 L1035 792.8 L1037 791.9 L1039 791.1 L1041 790.2 L1043 789.4 L1045 788.5 L1047 787.7 L1049 786.9 L1051 786.1 L1053 785.3 L1055 784.4 L1057 783.7 L1059 782.9 L1061 782.1 L1063 781.3 L1065 780.6 L1067 779.8 L1069 779.0 L1071 778.3 L1073 777.5 L1075 776.7 L1077 776.0 L1079 775.2 L1081 774.4 L1083 773.6 L1085 772.9 L1087 772.2 L1089 771.5 L1091 770.9 L1093 770.3 L1095 769.8 L1097 769.4 L1099 769.0 L1101 768.6 L1103 768.3 L1105 768.0 L1107 767.8 L1109 767.6 L1111 767.4 L1113 767.3 L1115 767.2 L1117 767.1 L1119 767.0 L1121 766.8 L1123 766.5 L1125 766.3 L1127 766.0 L1129 765.8 L1131 765.5 L1133 765.2 L1135 765.0 L1137 765.0 L1139 764.9 L1141 764.9 L1143 764.9 L1145 764.9 L1147 764.9 L1149 765.0 L1151 765.3 L1153 765.9 L1155 766.6 L1156 766.8" stroke="#DB9355"/>
<path d="M231 641.4 L233 643.2 L235 645.3 L237 647.7 L239 650.5 L241 653.3 L243 656.1 L245 658.9 L247 661.5 L249 664.1 L251 666.6 L253 669.0 L255 671.3 L257 673.4 L259 675.4 L261 677.4 L263 679.3 L265 681.1 L267 682.8 L269 684.5 L271 686.1 L273 687.6 L275 689.1 L277 690.4 L279 691.8 L281 693.0 L283 694.2 L285 695.4 L287 696.5 L289 697.5 L291 698.5 L293 699.4 L295 700.3 L297 701.1 L299 701.9 L301 702.6 L303 703.3 L305 703.9 L307 704.4 L309 704.9 L311 705.4 L313 705.8 L315 706.2 L317 706.5 L319 706.8 L321 707.0 L323 707.2 L325 707.4 L327 707.5 L329 707.6 L331 707.7 L333 707.8 L335 707.8 L337 707.8 L339 707.8 L341 707.7 L343 707.6 L345 707.5 L347 707.4 L349 707.2 L351 707.0 L353 706.7 L355 706.4 L357 706.1 L359 705.7 L361 705.3 L363 704.9 L365 704.5 L367 704.0 L369 703.5 L371 702.9 L373 702.4 L375 701.8 L377 701.1 L379 700.5 L381 699.9 L383 699.2 L385 698.5 L387 697.8 L389 697.1 L391 696.4 L393 695.7 L395 695.0 L397 694.2 L399 693.4 L401 692.6 L403 691.9 L405 691.1 L407 690.2 L409 689.4 L411 688.6 L413 687.8 L415 687.0 L417 686.1 L419 685.3 L421 684.5 L423 683.7 L425 682.9 L427 682.1 L429 681.4 L431 680.6 L433 679.8 L435 679.1 L437 678.4 L439 677.7 L441 677.0 L443 676.3 L445 675.7 L447 675.1 L449 674.5 L451 673.9 L453 673.4 L455 672.9 L457 672.4 L459 672.0 L461 671.5 L463 671.1 L465 670.8 L467 670.4 L469 670.1 L471 669.9 L473 669.6 L475 669.4 L477 669.3 L479 669.1 L481 669.0 L483 669.0 L485 668.9 L487 668.8 L489 668.8 L491 668.8 L493 668.8 L495 668.9 L497 668.9 L499 669.0 L501 669.1 L503 669.3 L505 669.5 L507 669.7 L509 670.0 L511 670.4 L513 670.8 L515 671.2 L517 671.7 L519 672.2 L521 672.8 L523 673.3 L525 673.9 L527 674.5 L529 675.2 L531 675.8 L533 676.5 L535 677.2 L537 677.9 L539 678.6 L541 679.4 L543 680.2 L545 681.1 L547 682.0 L549 682.9 L551 683.9 L553 685.0 L555 686.0 L557 687.1 L559 688.2 L561 689.4 L563 690.5 L565 691.7 L567 692.9 L569 694.0 L571 695.2 L573 696.4 L575 697.6 L577 698.8 L579 700.0 L581 701.2 L583 702.4 L585 703.6 L587 704.8 L589 706.0 L591 707.3 L593 708.5 L595 709.7 L597 710.9 L599 712.1 L601 713.3 L603 714.4 L605 715.6 L607 716.8 L609 717.9 L611 719.0 L613 720.1 L615 721.1 L617 722.2 L619 723.2 L621 724.3 L623 725.3 L625 726.3 L627 727.3 L629 728.3 L631 729.2 L633 730.2 L635 731.1 L637 732.1 L639 733.0 L641 733.9 L643 734.8 L645 735.7 L647 736.5 L649 737.4 L651 738.3 L653 739.1 L655 740.0 L657 740.9 L659 741.7 L661 742.6 L663 743.5 L665 744.4 L667 745.2 L669 746.1 L671 747.0 L673 747.9 L675 748.8 L677 749.6 L679 750.5 L681 751.4 L683 752.3 L685 753.2 L687 754.0 L689 754.9 L691 755.8 L693 756.7 L695 757.6 L697 758.4 L699 759.3 L701 760.2 L703 761.1 L705 762.0 L707 762.9 L709 763.8 L711 764.6 L713 765.5 L715 766.4 L717 767.3 L719 768.2 L721 769.0 L723 769.9 L725 770.8 L727 771.7 L729 772.7 L731 773.6 L733 774.6 L735 775.5 L737 776.5 L739 777.6 L741 778.6 L743 779.6 L745 780.7 L747 781.8 L749 782.9 L751 784.0 L753 785.1 L755 786.2 L757 787.3 L759 788.4 L761 789.5 L763 790.6 L765 791.7 L767 792.8 L769 793.9 L771 795.1 L773 796.2 L775 797.3 L777 798.4 L779 799.5 L781 800.7 L783 801.8 L785 803.0 L787 804.1 L789 805.2 L791 806.4 L793 807.5 L795 808.7 L797 809.9 L799 811.0 L801 812.2 L803 813.3 L805 814.5 L807 815.6 L809 816.8 L811 817.9 L813 819.1 L815 820.2 L817 821.4 L819 822.5 L821 823.7 L823 824.8 L825 825.9 L827 827.0 L829 828.1 L831 829.2 L833 830.2 L835 831.2 L837 832.2 L839 833.2 L841 834.1 L843 835.0 L845 835.9 L847 836.7 L849 837.6 L851 838.4 L853 839.2 L855 840.0 L857 840.8 L859 841.5 L861 842.2 L863 842.8 L865 843.4 L867 844.0 L869 844.5 L871 844.9 L873 845.2 L875 845.5 L877 845.7 L879 845.9 L881 846.0 L883 846.0 L885 846.0 L887 845.9 L889 845.8 L891 845.6 L893 845.4 L895 845.1 L897 844.8 L899 844.5 L901 844.1 L903 843.7 L905 843.3 L907 842.8 L909 842.4 L911 841.9 L913 841.3 L915 840.8 L917 840.2 L919 839.6 L921 839.0 L923 838.4 L925 837.7 L927 837.0 L929 836.3 L931 835.5 L933 834.7 L935 833.9 L937 833.0 L939 832.1 L941 831.2 L943 830.2 L945 829.2 L947 828.2 L949 827.1 L951 826.0 L953 824.9 L955 823.7 L957 822.5 L959 821.2 L961 819.9 L963 818.6 L965 817.3 L967 815.9 L969 814.5 L971 813.1 L973 811.6 L975 810.2 L977 808.8 L979 807.3 L981 805.8 L983 804.3 L985 802.8 L987 801.3 L989 799.8 L991 798.2 L993 796.7 L995 795.2 L997 793.7 L999 792.3 L1001 790.8 L1003 789.4 L1005 787.9 L1007 786.5 L1009 785.0 L1011 783.6 L1013 782.2 L1015 780.8 L1017 779.5 L1019 778.2 L1021 776.9 L1023 775.6 L1025 774.4 L1027 773.2 L1029 772.0 L1031 770.9 L1033 769.8 L1035 768.7 L1037 767.7 L1039 766.6 L1041 765.6 L1043 764.6 L1045 763.6 L1047 762.7 L1049 761.7 L1051 760.7 L1053 759.8 L1055 758.8 L1057 757.9 L1059 757.0 L1061 756.1 L1063 755.2 L1065 754.3 L1067 753.4 L1069 752.5 L1071 751.6 L1073 750.8 L1075 749.9 L1077 749.0 L1079 748.1 L1081 747.3 L1083 746.4 L1085 745.6 L1087 744.8 L1089 744.1 L1091 743.5 L1093 742.9 L1095 742.4 L1097 741.9 L1099 741.5 L1101 741.2 L1103 740.9 L1105 740.7 L1107 740.5 L1109 740.3 L1111 740.2 L1113 740.1 L1115 740.0 L1117 739.9 L1119 739.8 L1121 739.7 L1123 739.7 L1125 739.6 L1127 739.5 L1129 739.5 L1131 739.4 L1133 739.3 L1135 739.3 L1137 739.2 L1139 739.1 L1141 739.1 L1143 739.1 L1145 739.0 L1147 739.0 L1149 739.1 L1151 739.1 L1153 739.2 L1155 739.4 L1156 739.4" stroke="#1F8D8C"/>
<path d="M231 598.9 L233 601.0 L235 603.5 L237 606.4 L239 609.6 L241 612.9 L243 616.2 L245 619.4 L247 622.5 L249 625.5 L251 628.4 L253 631.2 L255 633.9 L257 636.3 L259 638.7 L261 641.0 L263 643.1 L265 645.2 L267 647.3 L269 649.2 L271 651.0 L273 652.8 L275 654.5 L277 656.0 L279 657.6 L281 659.0 L283 660.4 L285 661.7 L287 662.9 L289 664.1 L291 665.2 L293 666.2 L295 667.2 L297 668.1 L299 669.0 L301 669.7 L303 670.5 L305 671.1 L307 671.7 L309 672.3 L311 672.7 L313 673.2 L315 673.5 L317 673.8 L319 674.1 L321 674.3 L323 674.5 L325 674.7 L327 674.8 L329 674.9 L331 674.9 L333 674.9 L335 674.9 L337 674.8 L339 674.8 L341 674.6 L343 674.5 L345 674.3 L347 674.1 L349 673.9 L351 673.6 L353 673.2 L355 672.9 L357 672.5 L359 672.0 L361 671.5 L363 671.0 L365 670.5 L367 669.9 L369 669.3 L371 668.7 L373 668.0 L375 667.3 L377 666.6 L379 665.9 L381 665.1 L383 664.4 L385 663.6 L387 662.8 L389 662.0 L391 661.2 L393 660.4 L395 659.6 L397 658.7 L399 657.9 L401 657.0 L403 656.1 L405 655.2 L407 654.3 L409 653.4 L411 652.5 L413 651.6 L415 650.7 L417 649.8 L419 648.9 L421 648.0 L423 647.1 L425 646.2 L427 645.3 L429 644.4 L431 643.6 L433 642.7 L435 641.9 L437 641.1 L439 640.3 L441 639.5 L443 638.8 L445 638.1 L447 637.4 L449 636.7 L451 636.0 L453 635.4 L455 634.8 L457 634.3 L459 633.7 L461 633.2 L463 632.7 L465 632.3 L467 631.9 L469 631.5 L471 631.1 L473 630.8 L475 630.6 L477 630.4 L479 630.2 L481 630.0 L483 629.9 L485 629.7 L487 629.6 L489 629.6 L491 629.5 L493 629.5 L495 629.4 L497 629.5 L499 629.5 L501 629.6 L503 629.7 L505 629.9 L507 630.1 L509 630.4 L511 630.7 L513 631.2 L515 631.6 L517 632.1 L519 632.7 L521 633.3 L523 633.9 L525 634.6 L527 635.3 L529 636.0 L531 636.7 L533 637.5 L535 638.3 L537 639.1 L539 640.0 L541 640.9 L543 641.8 L545 642.9 L547 643.9 L549 645.1 L551 646.2 L553 647.5 L555 648.7 L557 650.0 L559 651.4 L561 652.7 L563 654.1 L565 655.5 L567 656.9 L569 658.3 L571 659.7 L573 661.2 L575 662.6 L577 664.1 L579 665.5 L581 667.0 L583 668.4 L585 669.8 L587 671.3 L589 672.7 L591 674.2 L593 675.6 L595 677.1 L597 678.5 L599 679.9 L601 681.3 L603 682.8 L605 684.1 L607 685.5 L609 686.8 L611 688.2 L613 689.5 L615 690.7 L617 692.0 L619 693.2 L621 694.5 L623 695.7 L625 696.9 L627 698.0 L629 699.2 L631 700.4 L633 701.5 L635 702.6 L637 703.8 L639 704.9 L641 706.0 L643 707.0 L645 708.1 L647 709.1 L649 710.2 L651 711.2 L653 712.3 L655 713.3 L657 714.3 L659 715.4 L661 716.5 L663 717.5 L665 718.6 L667 719.6 L669 720.7 L671 721.8 L673 722.8 L675 723.9 L677 724.9 L679 726.0 L681 727.0 L683 728.1 L685 729.2 L687 730.2 L689 731.3 L691 732.3 L693 733.3 L695 734.4 L697 735.4 L699 736.5 L701 737.5 L703 738.6 L705 739.6 L707 740.6 L709 741.7 L711 742.7 L713 743.7 L715 744.7 L717 745.8 L719 746.8 L721 747.8 L723 748.8 L725 749.8 L727 750.9 L729 751.9 L731 753.0 L733 754.0 L735 755.1 L737 756.3 L739 757.4 L741 758.6 L743 759.8 L745 760.9 L747 762.1 L749 763.4 L751 764.6 L753 765.8 L755 767.0 L757 768.2 L759 769.5 L761 770.7 L763 771.9 L765 773.1 L767 774.4 L769 775.6 L771 776.8 L773 778.0 L775 779.3 L777 780.5 L779 781.8 L781 783.0 L783 784.2 L785 785.5 L787 786.8 L789 788.0 L791 789.3 L793 790.6 L795 791.8 L797 793.1 L799 794.4 L801 795.7 L803 796.9 L805 798.2 L807 799.5 L809 800.8 L811 802.0 L813 803.3 L815 804.6 L817 805.9 L819 807.2 L821 808.4 L823 809.7 L825 811.0 L827 812.2 L829 813.4 L831 814.6 L833 815.8 L835 816.9 L837 818.0 L839 819.1 L841 820.1 L843 821.2 L845 822.2 L847 823.2 L849 824.1 L851 825.0 L853 826.0 L855 826.8 L857 827.7 L859 828.5 L861 829.3 L863 830.1 L865 830.8 L867 831.4 L869 831.9 L871 832.4 L873 832.8 L875 833.1 L877 833.3 L879 833.5 L881 833.6 L883 833.7 L885 833.6 L887 833.6 L889 833.4 L891 833.2 L893 833.0 L895 832.7 L897 832.3 L899 831.9 L901 831.5 L903 831.0 L905 830.5 L907 830.0 L909 829.5 L911 828.9 L913 828.2 L915 827.6 L917 826.9 L919 826.2 L921 825.4 L923 824.6 L925 823.8 L927 822.9 L929 822.0 L931 821.0 L933 820.0 L935 818.9 L937 817.8 L939 816.7 L941 815.5 L943 814.3 L945 813.1 L947 811.8 L949 810.5 L951 809.1 L953 807.7 L955 806.3 L957 804.9 L959 803.4 L961 801.8 L963 800.3 L965 798.7 L967 797.1 L969 795.6 L971 794.0 L973 792.4 L975 790.8 L977 789.2 L979 787.6 L981 786.0 L983 784.3 L985 782.7 L987 781.0 L989 779.4 L991 777.7 L993 776.1 L995 774.4 L997 772.8 L999 771.2 L1001 769.6 L1003 768.0 L1005 766.4 L1007 764.8 L1009 763.2 L1011 761.7 L1013 760.1 L1015 758.5 L1017 757.0 L1019 755.5 L1021 754.0 L1023 752.5 L1025 751.0 L1027 749.6 L1029 748.3 L1031 746.9 L1033 745.6 L1035 744.3 L1037 743.1 L1039 741.8 L1041 740.6 L1043 739.4 L1045 738.2 L1047 737.0 L1049 735.9 L1051 734.7 L1053 733.6 L1055 732.5 L1057 731.5 L1059 730.4 L1061 729.4 L1063 728.4 L1065 727.4 L1067 726.4 L1069 725.5 L1071 724.5 L1073 723.5 L1075 722.6 L1077 721.6 L1079 720.6 L1081 719.7 L1083 718.7 L1085 717.8 L1087 716.9 L1089 716.1 L1091 715.3 L1093 714.7 L1095 714.1 L1097 713.6 L1099 713.1 L1101 712.7 L1103 712.4 L1105 712.1 L1107 711.9 L1109 711.7 L1111 711.5 L1113 711.3 L1115 711.2 L1117 711.1 L1119 711.0 L1121 710.9 L1123 710.8 L1125 710.7 L1127 710.6 L1129 710.5 L1131 710.4 L1133 710.2 L1135 710.1 L1137 710.0 L1139 709.9 L1141 709.8 L1143 709.8 L1145 709.7 L1147 709.7 L1149 709.7 L1151 709.7 L1153 709.8 L1155 709.9 L1156 710.0" stroke="#E985AA"/>
<path d="M231 557.7 L233 560.1 L235 562.9 L237 566.1 L239 569.7 L241 573.5 L243 577.2 L245 580.8 L247 584.3 L249 587.7 L251 590.9 L253 594.1 L255 597.1 L257 599.8 L259 602.5 L261 605.0 L263 607.4 L265 609.8 L267 612.0 L269 614.1 L271 616.1 L273 618.1 L275 619.9 L277 621.6 L279 623.3 L281 624.8 L283 626.3 L285 627.7 L287 629.1 L289 630.3 L291 631.5 L293 632.6 L295 633.6 L297 634.6 L299 635.5 L301 636.3 L303 637.0 L305 637.7 L307 638.3 L309 638.8 L311 639.3 L313 639.7 L315 640.1 L317 640.4 L319 640.7 L321 640.9 L323 641.0 L325 641.2 L327 641.2 L329 641.3 L331 641.3 L333 641.3 L335 641.3 L337 641.2 L339 641.1 L341 640.9 L343 640.8 L345 640.6 L347 640.3 L349 640.0 L351 639.7 L353 639.3 L355 638.9 L357 638.5 L359 638.0 L361 637.5 L363 636.9 L365 636.3 L367 635.7 L369 635.0 L371 634.3 L373 633.6 L375 632.9 L377 632.1 L379 631.3 L381 630.5 L383 629.6 L385 628.8 L387 628.0 L389 627.1 L391 626.2 L393 625.3 L395 624.4 L397 623.5 L399 622.5 L401 621.6 L403 620.6 L405 619.6 L407 618.7 L409 617.7 L411 616.7 L413 615.7 L415 614.7 L417 613.7 L419 612.7 L421 611.7 L423 610.7 L425 609.8 L427 608.8 L429 607.9 L431 606.9 L433 606.0 L435 605.1 L437 604.2 L439 603.4 L441 602.5 L443 601.7 L445 601.0 L447 600.2 L449 599.5 L451 598.8 L453 598.1 L455 597.5 L457 596.9 L459 596.3 L461 595.8 L463 595.3 L465 594.8 L467 594.4 L469 594.0 L471 593.6 L473 593.3 L475 593.1 L477 592.8 L479 592.6 L481 592.5 L483 592.4 L485 592.2 L487 592.2 L489 592.1 L491 592.1 L493 592.0 L495 592.0 L497 592.1 L499 592.1 L501 592.2 L503 592.4 L505 592.6 L507 592.9 L509 593.2 L511 593.6 L513 594.1 L515 594.6 L517 595.2 L519 595.8 L521 596.5 L523 597.2 L525 597.9 L527 598.7 L529 599.5 L531 600.4 L533 601.2 L535 602.1 L537 603.0 L539 603.9 L541 604.9 L543 606.0 L545 607.1 L547 608.3 L549 609.5 L551 610.8 L553 612.2 L555 613.6 L557 615.1 L559 616.5 L561 618.0 L563 619.5 L565 621.1 L567 622.6 L569 624.2 L571 625.8 L573 627.4 L575 629.0 L577 630.6 L579 632.2 L581 633.8 L583 635.4 L585 637.0 L587 638.6 L589 640.2 L591 641.8 L593 643.4 L595 645.0 L597 646.6 L599 648.2 L601 649.7 L603 651.3 L605 652.8 L607 654.4 L609 655.8 L611 657.3 L613 658.8 L615 660.2 L617 661.6 L619 662.9 L621 664.3 L623 665.6 L625 667.0 L627 668.3 L629 669.6 L631 670.9 L633 672.1 L635 673.4 L637 674.6 L639 675.8 L641 677.0 L643 678.2 L645 679.4 L647 680.5 L649 681.7 L651 682.8 L653 684.0 L655 685.1 L657 686.3 L659 687.5 L661 688.6 L663 689.8 L665 691.0 L667 692.1 L669 693.3 L671 694.5 L673 695.7 L675 696.9 L677 698.0 L679 699.2 L681 700.4 L683 701.6 L685 702.8 L687 704.0 L689 705.1 L691 706.3 L693 707.5 L695 708.7 L697 709.9 L699 711.1 L701 712.3 L703 713.5 L705 714.7 L707 715.9 L709 717.1 L711 718.2 L713 719.4 L715 720.6 L717 721.8 L719 723.0 L721 724.2 L723 725.4 L725 726.6 L727 727.8 L729 729.0 L731 730.3 L733 731.5 L735 732.8 L737 734.1 L739 735.5 L741 736.9 L743 738.3 L745 739.7 L747 741.1 L749 742.5 L751 744.0 L753 745.4 L755 746.9 L757 748.3 L759 749.8 L761 751.2 L763 752.7 L765 754.1 L767 755.6 L769 757.0 L771 758.5 L773 759.9 L775 761.4 L777 762.8 L779 764.3 L781 765.8 L783 767.3 L785 768.7 L787 770.2 L789 771.7 L791 773.2 L793 774.7 L795 776.2 L797 777.6 L799 779.1 L801 780.6 L803 782.1 L805 783.6 L807 785.1 L809 786.5 L811 788.0 L813 789.5 L815 790.9 L817 792.4 L819 793.9 L821 795.3 L823 796.8 L825 798.2 L827 799.6 L829 801.0 L831 802.3 L833 803.6 L835 804.9 L837 806.1 L839 807.3 L841 808.4 L843 809.6 L845 810.7 L847 811.7 L849 812.8 L851 813.8 L853 814.8 L855 815.7 L857 816.7 L859 817.5 L861 818.4 L863 819.2 L865 819.9 L867 820.5 L869 821.1 L871 821.6 L873 821.9 L875 822.2 L877 822.4 L879 822.6 L881 822.6 L883 822.6 L885 822.5 L887 822.4 L889 822.1 L891 821.8 L893 821.5 L895 821.1 L897 820.6 L899 820.1 L901 819.6 L903 819.0 L905 818.4 L907 817.7 L909 817.0 L911 816.3 L913 815.6 L915 814.8 L917 814.0 L919 813.1 L921 812.3 L923 811.3 L925 810.4 L927 809.3 L929 808.3 L931 807.2 L933 806.0 L935 804.9 L937 803.6 L939 802.3 L941 801.0 L943 799.7 L945 798.3 L947 796.9 L949 795.4 L951 793.9 L953 792.4 L955 790.8 L957 789.2 L959 787.6 L961 785.9 L963 784.1 L965 782.4 L967 780.6 L969 778.9 L971 777.1 L973 775.3 L975 773.5 L977 771.7 L979 769.8 L981 768.0 L983 766.1 L985 764.2 L987 762.4 L989 760.5 L991 758.6 L993 756.7 L995 754.8 L997 753.0 L999 751.1 L1001 749.3 L1003 747.5 L1005 745.7 L1007 743.8 L1009 742.0 L1011 740.2 L1013 738.4 L1015 736.6 L1017 734.9 L1019 733.1 L1021 731.4 L1023 729.8 L1025 728.1 L1027 726.6 L1029 725.0 L1031 723.5 L1033 722.1 L1035 720.7 L1037 719.3 L1039 717.9 L1041 716.6 L1043 715.3 L1045 714.0 L1047 712.8 L1049 711.5 L1051 710.3 L1053 709.0 L1055 707.8 L1057 706.6 L1059 705.4 L1061 704.3 L1063 703.1 L1065 702.0 L1067 700.8 L1069 699.7 L1071 698.6 L1073 697.5 L1075 696.3 L1077 695.2 L1079 694.1 L1081 692.9 L1083 691.8 L1085 690.8 L1087 689.8 L1089 688.9 L1091 688.0 L1093 687.3 L1095 686.6 L1097 686.1 L1099 685.6 L1101 685.1 L1103 684.8 L1105 684.5 L1107 684.3 L1109 684.1 L1111 683.9 L1113 683.8 L1115 683.7 L1117 683.6 L1119 683.5 L1121 683.4 L1123 683.4 L1125 683.3 L1127 682.9 L1129 682.2 L1131 681.5 L1133 680.8 L1135 680.1 L1137 679.7 L1139 679.7 L1141 679.6 L1143 679.6 L1145 679.6 L1147 679.6 L1149 679.7 L1151 680.5 L1153 682.0 L1155 683.5 L1156 684.0" stroke="#000000"/>
<path d="M231 515.2 L233 517.7 L235 520.6 L237 524.1 L239 527.9 L241 531.9 L243 535.9 L245 539.8 L247 543.5 L249 547.1 L251 550.6 L253 554.0 L255 557.3 L257 560.2 L259 563.0 L261 565.8 L263 568.4 L265 571.0 L267 573.4 L269 575.8 L271 578.0 L273 580.1 L275 582.2 L277 584.1 L279 585.9 L281 587.7 L283 589.4 L285 591.0 L287 592.5 L289 593.9 L291 595.3 L293 596.6 L295 597.8 L297 598.9 L299 600.0 L301 601.0 L303 601.9 L305 602.7 L307 603.5 L309 604.2 L311 604.8 L313 605.4 L315 605.9 L317 606.3 L319 606.7 L321 607.0 L323 607.3 L325 607.5 L327 607.7 L329 607.9 L331 608.0 L333 608.1 L335 608.1 L337 608.1 L339 608.1 L341 608.0 L343 607.9 L345 607.7 L347 607.5 L349 607.3 L351 607.0 L353 606.7 L355 606.3 L357 605.8 L359 605.4 L361 604.8 L363 604.3 L365 603.7 L367 603.0 L369 602.3 L371 601.6 L373 600.9 L375 600.1 L377 599.3 L379 598.4 L381 597.6 L383 596.7 L385 595.8 L387 594.9 L389 593.9 L391 593.0 L393 592.0 L395 591.1 L397 590.1 L399 589.0 L401 588.0 L403 586.9 L405 585.9 L407 584.8 L409 583.7 L411 582.6 L413 581.5 L415 580.4 L417 579.3 L419 578.2 L421 577.1 L423 576.1 L425 575.0 L427 573.9 L429 572.9 L431 571.8 L433 570.8 L435 569.8 L437 568.8 L439 567.9 L441 566.9 L443 566.0 L445 565.2 L447 564.3 L449 563.5 L451 562.7 L453 562.0 L455 561.3 L457 560.6 L459 559.9 L461 559.3 L463 558.8 L465 558.2 L467 557.7 L469 557.3 L471 556.9 L473 556.5 L475 556.2 L477 555.9 L479 555.7 L481 555.5 L483 555.3 L485 555.2 L487 555.0 L489 554.9 L491 554.9 L493 554.8 L495 554.8 L497 554.8 L499 554.8 L501 554.9 L503 555.0 L505 555.2 L507 555.4 L509 555.8 L511 556.2 L513 556.6 L515 557.2 L517 557.8 L519 558.4 L521 559.1 L523 559.9 L525 560.6 L527 561.5 L529 562.3 L531 563.2 L533 564.2 L535 565.1 L537 566.1 L539 567.2 L541 568.3 L543 569.4 L545 570.7 L547 572.0 L549 573.3 L551 574.8 L553 576.2 L555 577.8 L557 579.3 L559 580.9 L561 582.5 L563 584.1 L565 585.7 L567 587.3 L569 589.0 L571 590.6 L573 592.3 L575 594.0 L577 595.6 L579 597.3 L581 599.0 L583 600.6 L585 602.3 L587 603.9 L589 605.6 L591 607.3 L593 609.0 L595 610.7 L597 612.3 L599 614.0 L601 615.7 L603 617.3 L605 619.0 L607 620.6 L609 622.2 L611 623.8 L613 625.3 L615 626.8 L617 628.3 L619 629.8 L621 631.3 L623 632.7 L625 634.2 L627 635.6 L629 637.0 L631 638.5 L633 639.9 L635 641.3 L637 642.6 L639 644.0 L641 645.3 L643 646.7 L645 648.0 L647 649.3 L649 650.6 L651 651.9 L653 653.3 L655 654.6 L657 655.9 L659 657.2 L661 658.6 L663 659.9 L665 661.3 L667 662.6 L669 664.0 L671 665.4 L673 666.7 L675 668.1 L677 669.4 L679 670.8 L681 672.2 L683 673.5 L685 674.9 L687 676.2 L689 677.6 L691 679.0 L693 680.3 L695 681.7 L697 683.0 L699 684.4 L701 685.8 L703 687.1 L705 688.5 L707 689.8 L709 691.2 L711 692.6 L713 693.9 L715 695.2 L717 696.6 L719 697.9 L721 699.3 L723 700.6 L725 702.0 L727 703.3 L729 704.7 L731 706.1 L733 707.6 L735 709.0 L737 710.5 L739 712.0 L741 713.5 L743 715.1 L745 716.6 L747 718.2 L749 719.8 L751 721.4 L753 723.0 L755 724.6 L757 726.1 L759 727.7 L761 729.3 L763 730.9 L765 732.5 L767 734.1 L769 735.6 L771 737.2 L773 738.8 L775 740.4 L777 742.0 L779 743.6 L781 745.1 L783 746.7 L785 748.3 L787 749.9 L789 751.5 L791 753.1 L793 754.7 L795 756.4 L797 758.0 L799 759.6 L801 761.2 L803 762.8 L805 764.4 L807 766.0 L809 767.6 L811 769.2 L813 770.8 L815 772.4 L817 774.0 L819 775.6 L821 777.2 L823 778.8 L825 780.4 L827 781.9 L829 783.4 L831 784.9 L833 786.4 L835 787.8 L837 789.1 L839 790.5 L841 791.8 L843 793.0 L845 794.3 L847 795.5 L849 796.6 L851 797.8 L853 798.9 L855 800.0 L857 801.0 L859 802.0 L861 803.0 L863 803.9 L865 804.7 L867 805.5 L869 806.1 L871 806.7 L873 807.1 L875 807.4 L877 807.7 L879 807.9 L881 807.9 L883 807.9 L885 807.9 L887 807.7 L889 807.5 L891 807.2 L893 806.9 L895 806.4 L897 806.0 L899 805.4 L901 804.8 L903 804.2 L905 803.5 L907 802.8 L909 802.1 L911 801.3 L913 800.4 L915 799.6 L917 798.7 L919 797.7 L921 796.8 L923 795.7 L925 794.7 L927 793.5 L929 792.4 L931 791.2 L933 789.9 L935 788.6 L937 787.3 L939 786.0 L941 784.6 L943 783.2 L945 781.7 L947 780.3 L949 778.8 L951 777.3 L953 775.8 L955 774.2 L957 772.6 L959 771.0 L961 769.3 L963 767.6 L965 765.9 L967 764.1 L969 762.4 L971 760.6 L973 758.8 L975 757.0 L977 755.2 L979 753.3 L981 751.4 L983 749.5 L985 747.5 L987 745.5 L989 743.5 L991 741.4 L993 739.3 L995 737.3 L997 735.2 L999 733.1 L1001 731.0 L1003 728.9 L1005 726.8 L1007 724.6 L1009 722.5 L1011 720.4 L1013 718.2 L1015 716.1 L1017 714.1 L1019 712.0 L1021 710.0 L1023 708.1 L1025 706.2 L1027 704.3 L1029 702.5 L1031 700.8 L1033 699.1 L1035 697.4 L1037 695.8 L1039 694.2 L1041 692.7 L1043 691.2 L1045 689.6 L1047 688.2 L1049 686.7 L1051 685.2 L1053 683.8 L1055 682.4 L1057 681.0 L1059 679.6 L1061 678.3 L1063 676.9 L1065 675.6 L1067 674.4 L1069 673.1 L1071 671.8 L1073 670.6 L1075 669.3 L1077 668.1 L1079 666.8 L1081 665.6 L1083 664.4 L1085 663.2 L1087 662.1 L1089 661.1 L1091 660.2 L1093 659.4 L1095 658.7 L1097 658.1 L1099 657.5 L1101 657.1 L1103 656.7 L1105 656.4 L1107 656.1 L1109 655.9 L1111 655.8 L1113 655.6 L1115 655.5 L1117 655.4 L1119 655.3 L1121 655.2 L1123 655.1 L1125 655.1 L1127 655.0 L1129 654.9 L1131 654.8 L1133 654.7 L1135 654.6 L1137 654.5 L1139 654.4 L1141 654.4 L1143 654.3 L1145 654.3 L1147 654.3 L1149 654.4 L1151 654.5 L1153 654.6 L1155 654.8 L1156 654.9" stroke="#5B4A9C"/>
<path d="M231 473.9 L233 476.6 L235 479.6 L237 483.3 L239 487.4 L241 491.6 L243 495.9 L245 500.0 L247 504.0 L249 507.9 L251 511.6 L253 515.2 L255 518.7 L257 521.8 L259 524.9 L261 527.8 L263 530.6 L265 533.4 L267 536.0 L269 538.5 L271 540.9 L273 543.2 L275 545.4 L277 547.5 L279 549.5 L281 551.4 L283 553.2 L285 555.0 L287 556.6 L289 558.2 L291 559.7 L293 561.1 L295 562.5 L297 563.7 L299 564.9 L301 566.0 L303 567.0 L305 568.0 L307 568.8 L309 569.6 L311 570.3 L313 571.0 L315 571.6 L317 572.1 L319 572.5 L321 572.9 L323 573.3 L325 573.6 L327 573.8 L329 574.0 L331 574.2 L333 574.3 L335 574.3 L337 574.4 L339 574.4 L341 574.3 L343 574.2 L345 574.1 L347 573.9 L349 573.7 L351 573.4 L353 573.0 L355 572.6 L357 572.2 L359 571.6 L361 571.1 L363 570.5 L365 569.8 L367 569.2 L369 568.4 L371 567.6 L373 566.8 L375 566.0 L377 565.1 L379 564.1 L381 563.2 L383 562.2 L385 561.3 L387 560.3 L389 559.2 L391 558.2 L393 557.1 L395 556.1 L397 555.0 L399 553.8 L401 552.7 L403 551.5 L405 550.4 L407 549.2 L409 548.0 L411 546.8 L413 545.6 L415 544.4 L417 543.2 L419 541.9 L421 540.7 L423 539.6 L425 538.4 L427 537.2 L429 536.1 L431 534.9 L433 533.8 L435 532.7 L437 531.6 L439 530.5 L441 529.5 L443 528.5 L445 527.5 L447 526.6 L449 525.7 L451 524.9 L453 524.0 L455 523.2 L457 522.5 L459 521.8 L461 521.1 L463 520.5 L465 519.9 L467 519.3 L469 518.8 L471 518.3 L473 517.9 L475 517.6 L477 517.3 L479 517.0 L481 516.8 L483 516.6 L485 516.4 L487 516.2 L489 516.1 L491 516.0 L493 515.9 L495 515.9 L497 515.8 L499 515.8 L501 515.9 L503 516.0 L505 516.2 L507 516.4 L509 516.8 L511 517.2 L513 517.7 L515 518.3 L517 518.9 L519 519.6 L521 520.4 L523 521.2 L525 522.0 L527 522.9 L529 523.9 L531 524.9 L533 526.0 L535 527.1 L537 528.2 L539 529.4 L541 530.7 L543 532.0 L545 533.4 L547 534.9 L549 536.5 L551 538.1 L553 539.8 L555 541.5 L557 543.2 L559 545.0 L561 546.7 L563 548.5 L565 550.3 L567 552.1 L569 553.9 L571 555.7 L573 557.4 L575 559.2 L577 561.0 L579 562.8 L581 564.6 L583 566.3 L585 568.1 L587 569.9 L589 571.6 L591 573.4 L593 575.2 L595 576.9 L597 578.7 L599 580.4 L601 582.2 L603 583.9 L605 585.6 L607 587.2 L609 588.8 L611 590.4 L613 592.0 L615 593.6 L617 595.1 L619 596.6 L621 598.1 L623 599.5 L625 601.0 L627 602.4 L629 603.9 L631 605.3 L633 606.8 L635 608.2 L637 609.6 L639 611.0 L641 612.4 L643 613.8 L645 615.2 L647 616.7 L649 618.1 L651 619.5 L653 620.9 L655 622.4 L657 623.8 L659 625.3 L661 626.8 L663 628.3 L665 629.8 L667 631.3 L669 632.9 L671 634.4 L673 636.0 L675 637.6 L677 639.1 L679 640.7 L681 642.3 L683 643.9 L685 645.4 L687 647.0 L689 648.6 L691 650.2 L693 651.8 L695 653.4 L697 655.0 L699 656.6 L701 658.2 L703 659.8 L705 661.4 L707 663.0 L709 664.6 L711 666.2 L713 667.7 L715 669.3 L717 670.9 L719 672.4 L721 674.0 L723 675.5 L725 677.1 L727 678.7 L729 680.3 L731 681.9 L733 683.5 L735 685.2 L737 686.8 L739 688.5 L741 690.3 L743 692.0 L745 693.8 L747 695.5 L749 697.3 L751 699.1 L753 700.9 L755 702.7 L757 704.5 L759 706.2 L761 708.0 L763 709.8 L765 711.5 L767 713.3 L769 715.1 L771 716.8 L773 718.6 L775 720.4 L777 722.1 L779 723.9 L781 725.7 L783 727.5 L785 729.3 L787 731.0 L789 732.8 L791 734.6 L793 736.4 L795 738.2 L797 740.0 L799 741.8 L801 743.6 L803 745.4 L805 747.2 L807 748.9 L809 750.7 L811 752.5 L813 754.3 L815 756.0 L817 757.8 L819 759.6 L821 761.4 L823 763.1 L825 764.8 L827 766.5 L829 768.2 L831 769.8 L833 771.4 L835 772.9 L837 774.4 L839 775.9 L841 777.3 L843 778.7 L845 780.0 L847 781.3 L849 782.6 L851 783.9 L853 785.1 L855 786.3 L857 787.4 L859 788.5 L861 789.6 L863 790.6 L865 791.5 L867 792.3 L869 793.0 L871 793.6 L873 794.1 L875 794.5 L877 794.8 L879 795.0 L881 795.1 L883 795.1 L885 795.1 L887 794.9 L889 794.7 L891 794.4 L893 794.0 L895 793.6 L897 793.1 L899 792.5 L901 791.9 L903 791.2 L905 790.5 L907 789.8 L909 789.0 L911 788.2 L913 787.3 L915 786.4 L917 785.5 L919 784.5 L921 783.5 L923 782.5 L925 781.4 L927 780.2 L929 779.0 L931 777.8 L933 776.5 L935 775.2 L937 773.8 L939 772.5 L941 771.0 L943 769.6 L945 768.1 L947 766.6 L949 765.1 L951 763.5 L953 761.9 L955 760.3 L957 758.6 L959 756.9 L961 755.1 L963 753.3 L965 751.5 L967 749.6 L969 747.7 L971 745.8 L973 743.8 L975 741.8 L977 739.7 L979 737.6 L981 735.4 L983 733.2 L985 730.9 L987 728.6 L989 726.2 L991 723.8 L993 721.4 L995 718.9 L997 716.5 L999 714.0 L1001 711.6 L1003 709.1 L1005 706.7 L1007 704.2 L1009 701.7 L1011 699.3 L1013 696.8 L1015 694.4 L1017 692.0 L1019 689.7 L1021 687.4 L1023 685.2 L1025 683.0 L1027 680.9 L1029 678.8 L1031 676.9 L1033 675.0 L1035 673.1 L1037 671.3 L1039 669.6 L1041 667.9 L1043 666.2 L1045 664.6 L1047 663.0 L1049 661.4 L1051 659.8 L1053 658.3 L1055 656.7 L1057 655.2 L1059 653.8 L1061 652.3 L1063 650.9 L1065 649.4 L1067 648.0 L1069 646.6 L1071 645.2 L1073 643.8 L1075 642.3 L1077 640.9 L1079 639.5 L1081 638.1 L1083 636.7 L1085 635.3 L1087 634.1 L1089 632.9 L1091 631.9 L1093 631.0 L1095 630.1 L1097 629.4 L1099 628.8 L1101 628.3 L1103 627.9 L1105 627.5 L1107 627.2 L1109 627.0 L1111 626.8 L1113 626.7 L1115 626.5 L1117 626.4 L1119 626.3 L1121 626.2 L1123 626.2 L1125 626.1 L1127 626.0 L1129 625.9 L1131 625.7 L1133 625.6 L1135 625.5 L1137 625.4 L1139 625.3 L1141 625.2 L1143 625.2 L1145 625.1 L1147 625.1 L1149 625.1 L1151 625.2 L1153 625.4 L1155 625.5 L1156 625.6" stroke="#F0A35E"/>
<path d="M231 430.2 L233 433.5 L235 437.2 L237 441.6 L239 446.4 L241 451.4 L243 456.4 L245 461.2 L247 466.0 L249 470.5 L251 474.9 L253 479.1 L255 483.2 L257 486.9 L259 490.4 L261 493.8 L263 497.1 L265 500.3 L267 503.3 L269 506.2 L271 509.0 L273 511.6 L275 514.1 L277 516.4 L279 518.7 L281 520.8 L283 522.9 L285 524.8 L287 526.6 L289 528.4 L291 530.0 L293 531.5 L295 532.9 L297 534.3 L299 535.5 L301 536.6 L303 537.7 L305 538.6 L307 539.5 L309 540.3 L311 541.0 L313 541.6 L315 542.1 L317 542.5 L319 542.9 L321 543.2 L323 543.5 L325 543.7 L327 543.9 L329 544.0 L331 544.1 L333 544.1 L335 544.1 L337 544.0 L339 543.9 L341 543.8 L343 543.6 L345 543.4 L347 543.1 L349 542.8 L351 542.4 L353 541.9 L355 541.4 L357 540.9 L359 540.2 L361 539.6 L363 538.9 L365 538.1 L367 537.4 L369 536.5 L371 535.6 L373 534.7 L375 533.7 L377 532.7 L379 531.7 L381 530.7 L383 529.6 L385 528.5 L387 527.4 L389 526.3 L391 525.1 L393 524.0 L395 522.8 L397 521.6 L399 520.3 L401 519.1 L403 517.8 L405 516.5 L407 515.2 L409 513.9 L411 512.6 L413 511.2 L415 509.9 L417 508.6 L419 507.3 L421 505.9 L423 504.6 L425 503.3 L427 502.0 L429 500.8 L431 499.5 L433 498.2 L435 497.0 L437 495.8 L439 494.7 L441 493.5 L443 492.4 L445 491.3 L447 490.3 L449 489.3 L451 488.3 L453 487.4 L455 486.5 L457 485.7 L459 484.9 L461 484.2 L463 483.4 L465 482.8 L467 482.1 L469 481.6 L471 481.0 L473 480.6 L475 480.2 L477 479.8 L479 479.5 L481 479.2 L483 479.0 L485 478.8 L487 478.6 L489 478.4 L491 478.3 L493 478.2 L495 478.1 L497 478.1 L499 478.0 L501 478.1 L503 478.2 L505 478.4 L507 478.6 L509 479.0 L511 479.4 L513 479.9 L515 480.5 L517 481.2 L519 481.9 L521 482.7 L523 483.6 L525 484.5 L527 485.4 L529 486.4 L531 487.4 L533 488.5 L535 489.6 L537 490.8 L539 492.0 L541 493.3 L543 494.6 L545 496.1 L547 497.6 L549 499.2 L551 500.9 L553 502.7 L555 504.5 L557 506.3 L559 508.2 L561 510.1 L563 512.0 L565 513.9 L567 515.9 L569 517.8 L571 519.8 L573 521.8 L575 523.8 L577 525.8 L579 527.8 L581 529.7 L583 531.7 L585 533.7 L587 535.7 L589 537.7 L591 539.6 L593 541.6 L595 543.6 L597 545.6 L599 547.6 L601 549.5 L603 551.5 L605 553.4 L607 555.2 L609 557.1 L611 558.9 L613 560.7 L615 562.4 L617 564.1 L619 565.8 L621 567.5 L623 569.2 L625 570.8 L627 572.4 L629 574.0 L631 575.6 L633 577.2 L635 578.8 L637 580.4 L639 581.9 L641 583.4 L643 585.0 L645 586.5 L647 588.0 L649 589.5 L651 591.0 L653 592.5 L655 594.0 L657 595.5 L659 597.1 L661 598.6 L663 600.2 L665 601.8 L667 603.4 L669 604.9 L671 606.5 L673 608.2 L675 609.8 L677 611.4 L679 613.0 L681 614.6 L683 616.2 L685 617.9 L687 619.5 L689 621.2 L691 622.8 L693 624.5 L695 626.1 L697 627.8 L699 629.5 L701 631.1 L703 632.8 L705 634.5 L707 636.2 L709 637.9 L711 639.6 L713 641.2 L715 642.9 L717 644.6 L719 646.3 L721 648.0 L723 649.7 L725 651.4 L727 653.1 L729 654.9 L731 656.7 L733 658.5 L735 660.3 L737 662.2 L739 664.1 L741 666.1 L743 668.0 L745 670.0 L747 672.0 L749 674.0 L751 676.1 L753 678.1 L755 680.1 L757 682.1 L759 684.2 L761 686.2 L763 688.2 L765 690.2 L767 692.2 L769 694.2 L771 696.2 L773 698.2 L775 700.2 L777 702.2 L779 704.2 L781 706.2 L783 708.2 L785 710.2 L787 712.3 L789 714.3 L791 716.3 L793 718.3 L795 720.3 L797 722.3 L799 724.3 L801 726.3 L803 728.3 L805 730.3 L807 732.3 L809 734.3 L811 736.2 L813 738.2 L815 740.2 L817 742.1 L819 744.1 L821 746.1 L823 748.0 L825 749.9 L827 751.8 L829 753.6 L831 755.4 L833 757.1 L835 758.8 L837 760.4 L839 762.0 L841 763.6 L843 765.1 L845 766.6 L847 768.0 L849 769.4 L851 770.7 L853 772.0 L855 773.3 L857 774.6 L859 775.7 L861 776.9 L863 777.9 L865 778.9 L867 779.8 L869 780.5 L871 781.1 L873 781.6 L875 782.0 L877 782.3 L879 782.5 L881 782.6 L883 782.6 L885 782.5 L887 782.3 L889 782.0 L891 781.7 L893 781.2 L895 780.7 L897 780.2 L899 779.5 L901 778.9 L903 778.1 L905 777.3 L907 776.5 L909 775.7 L911 774.8 L913 773.9 L915 773.0 L917 772.0 L919 771.0 L921 769.9 L923 768.8 L925 767.7 L927 766.5 L929 765.3 L931 764.0 L933 762.7 L935 761.4 L937 760.0 L939 758.5 L941 757.0 L943 755.5 L945 753.9 L947 752.3 L949 750.6 L951 748.8 L953 747.0 L955 745.1 L957 743.2 L959 741.2 L961 739.1 L963 736.9 L965 734.7 L967 732.5 L969 730.2 L971 727.9 L973 725.5 L975 723.1 L977 720.7 L979 718.2 L981 715.7 L983 713.1 L985 710.6 L987 708.0 L989 705.3 L991 702.7 L993 700.1 L995 697.5 L997 694.9 L999 692.4 L1001 689.8 L1003 687.3 L1005 684.7 L1007 682.2 L1009 679.7 L1011 677.2 L1013 674.8 L1015 672.3 L1017 669.9 L1019 667.6 L1021 665.3 L1023 663.0 L1025 660.8 L1027 658.7 L1029 656.7 L1031 654.7 L1033 652.7 L1035 650.8 L1037 649.0 L1039 647.1 L1041 645.3 L1043 643.6 L1045 641.8 L1047 640.1 L1049 638.3 L1051 636.6 L1053 634.9 L1055 633.1 L1057 631.4 L1059 629.8 L1061 628.1 L1063 626.4 L1065 624.8 L1067 623.1 L1069 621.5 L1071 619.9 L1073 618.3 L1075 616.7 L1077 615.0 L1079 613.4 L1081 611.8 L1083 610.3 L1085 608.8 L1087 607.4 L1089 606.1 L1091 605.0 L1093 604.0 L1095 603.1 L1097 602.3 L1099 601.6 L1101 601.1 L1103 600.6 L1105 600.2 L1107 599.9 L1109 599.7 L1111 599.5 L1113 599.4 L1115 599.2 L1117 599.1 L1119 599.0 L1121 598.9 L1123 598.8 L1125 598.7 L1127 598.7 L1129 598.4 L1131 598.0 L1133 597.6 L1135 597.2 L1137 596.8 L1139 596.4 L1141 596.2 L1143 596.0 L1145 595.8 L1147 595.6 L1149 595.5 L1151 596.0 L1153 597.2 L1155 598.4 L1156 598.8" stroke="#E87DA4"/>
</g>
<g stroke-width="7" stroke-linecap="round">
<line x1="1169" y1="446.0" x2="1223.5" y2="446.0" stroke="#E87DA4"/>
<line x1="1169" y1="495.8" x2="1223.5" y2="495.8" stroke="#F0A35E"/>
<line x1="1169" y1="545.6" x2="1223.5" y2="545.6" stroke="#5B4A9C"/>
<line x1="1169" y1="595.4" x2="1223.5" y2="595.4" stroke="#000000"/>
<line x1="1169" y1="645.2" x2="1223.5" y2="645.2" stroke="#E985AA"/>
<line x1="1169" y1="695.0" x2="1223.5" y2="695.0" stroke="#1F8D8C"/>
<line x1="1169" y1="744.8" x2="1223.5" y2="744.8" stroke="#DB9355"/>
<line x1="1169" y1="794.6" x2="1223.5" y2="794.6" stroke="#8B2A8A"/>
<line x1="1169" y1="844.4" x2="1223.5" y2="844.4" stroke="#6EC4D8"/>
<line x1="1169" y1="894.2" x2="1223.5" y2="894.2" stroke="#EEEA35"/>
<line x1="1169" y1="944.0" x2="1223.5" y2="944.0" stroke="#B266A8"/>
<line x1="1169" y1="993.8" x2="1223.5" y2="993.8" stroke="#28387F"/>
</g>
<g font-family="Liberation Sans, Arial, sans-serif" fill="#717171" font-size="27">
<text x="1231.5" y="459.6" textLength="99.5" lengthAdjust="spacingAndGlyphs">240 mg/l</text>
<text x="1231.5" y="509.4" textLength="99.5" lengthAdjust="spacingAndGlyphs">220 mg/l</text>
<text x="1231.5" y="559.2" textLength="99.5" lengthAdjust="spacingAndGlyphs">200 mg/l</text>
<text x="1231.5" y="609.0" textLength="99.5" lengthAdjust="spacingAndGlyphs">180 mg/l</text>
<text x="1231.5" y="658.8" textLength="99.5" lengthAdjust="spacingAndGlyphs">160 mg/l</text>
<text x="1231.5" y="708.6" textLength="94.5" lengthAdjust="spacingAndGlyphs">140mg/l</text>
<text x="1231.5" y="758.4" textLength="99.5" lengthAdjust="spacingAndGlyphs">120 mg/l</text>
<text x="1231.5" y="808.2" textLength="99.5" lengthAdjust="spacingAndGlyphs">100 mg/l</text>
<text x="1231.5" y="858.0" textLength="84.5" lengthAdjust="spacingAndGlyphs">80 mg/l</text>
<text x="1231.5" y="907.8" textLength="84.5" lengthAdjust="spacingAndGlyphs">60 mg/l</text>
<text x="1231.5" y="957.6" textLength="84.5" lengthAdjust="spacingAndGlyphs">40 mg/l</text>
<text x="1231.5" y="1007.4" textLength="84.5" lengthAdjust="spacingAndGlyphs">20 mg/l</text>
</g>
<g font-family="Liberation Sans, Arial, sans-serif" fill="#717171" font-size="29.2">
<text x="119" y="415.9" textLength="92.3" lengthAdjust="spacingAndGlyphs">4.0000</text>
<text x="119" y="482.3" textLength="92.3" lengthAdjust="spacingAndGlyphs">3.5000</text>
<text x="119" y="548.7" textLength="92.3" lengthAdjust="spacingAndGlyphs">3.0000</text>
<text x="119" y="615.1" textLength="92.3" lengthAdjust="spacingAndGlyphs">2.5000</text>
<text x="119" y="681.5" textLength="92.3" lengthAdjust="spacingAndGlyphs">2.0000</text>
<text x="119" y="747.9" textLength="92.3" lengthAdjust="spacingAndGlyphs">1.5000</text>
<text x="119" y="814.3" textLength="92.3" lengthAdjust="spacingAndGlyphs">1.0000</text>
<text x="119" y="880.7" textLength="92.3" lengthAdjust="spacingAndGlyphs">0.5000</text>
<text x="119" y="947.1" textLength="92.3" lengthAdjust="spacingAndGlyphs">0.0000</text>
<text x="194.5" y="982.5" textLength="75" lengthAdjust="spacingAndGlyphs">220.0</text>
<text x="337.0" y="982.5" textLength="75" lengthAdjust="spacingAndGlyphs">240.0</text>
<text x="476.0" y="982.5" textLength="75" lengthAdjust="spacingAndGlyphs">260.0</text>
<text x="617.5" y="982.5" textLength="75" lengthAdjust="spacingAndGlyphs">280.0</text>
<text x="757.5" y="982.5" textLength="75" lengthAdjust="spacingAndGlyphs">300.0</text>
<text x="897.0" y="982.5" textLength="75" lengthAdjust="spacingAndGlyphs">320.0</text>
<text x="1038.0" y="982.5" textLength="75" lengthAdjust="spacingAndGlyphs">340.0</text>
<text x="421.5" y="371.3" font-size="30.5" textLength="453" lengthAdjust="spacingAndGlyphs">Potassium Dichromate Solutions</text>
<text x="592" y="1038.2" font-size="29" textLength="237" lengthAdjust="spacingAndGlyphs">Wavelengths (nm)</text>
<text transform="translate(84.8 775.8) rotate(-90)" font-size="29" textLength="201.5" lengthAdjust="spacingAndGlyphs">Absorbance (A)</text>
</g>
</svg>
</div>
</body></html>
